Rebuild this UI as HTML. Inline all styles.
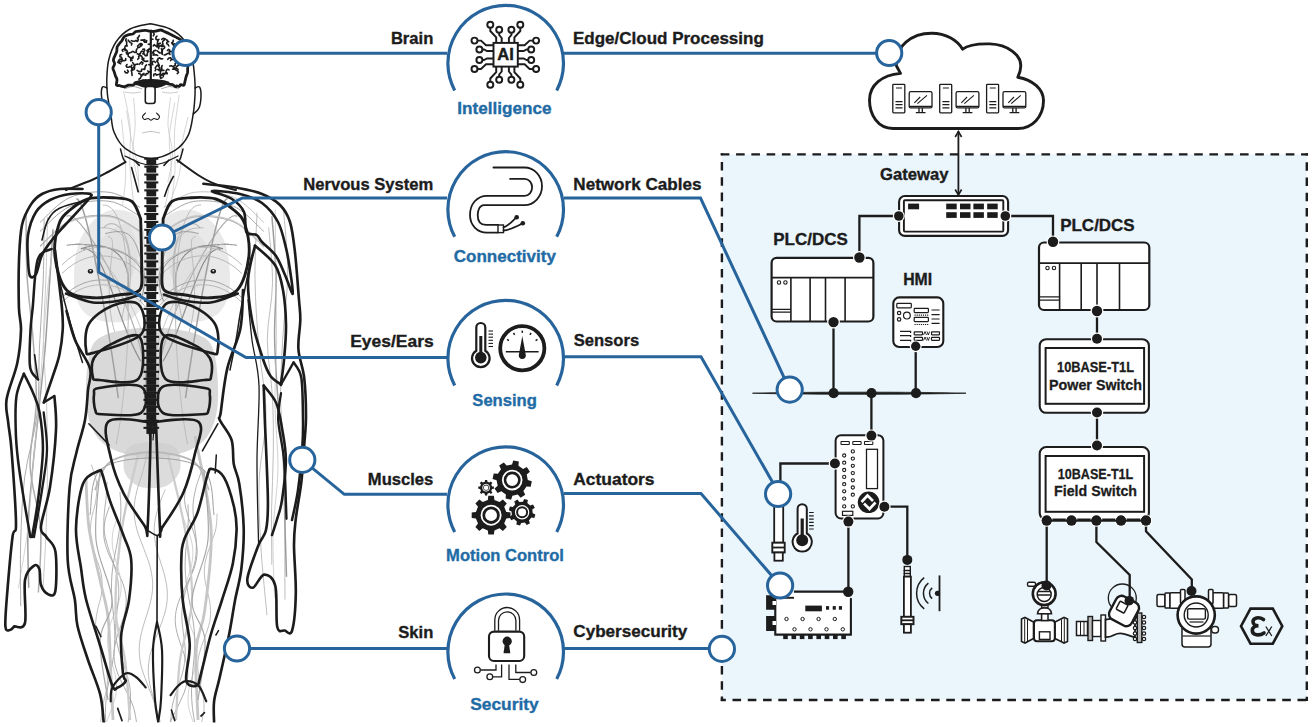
<!DOCTYPE html>
<html><head><meta charset="utf-8">
<style>
html,body{margin:0;padding:0;background:#fff;width:1312px;height:727px;overflow:hidden}
svg{display:block}
text{font-family:"Liberation Sans",sans-serif;font-weight:bold}
.lbl{font-size:16.6px;fill:#1c1c1c;stroke:#1c1c1c;stroke-width:0.35px}
.cap{font-size:16.6px;fill:#1f6ba5;stroke:#1f6ba5;stroke-width:0.35px}
.blue{stroke:#27649c;stroke-width:3;fill:none}
.bc{stroke:#27649c;stroke-width:3;fill:#fff}
.k{stroke:#1c1c1c;fill:none}
</style></head>
<body>
<svg width="1312" height="727" viewBox="0 0 1312 727">
<!-- BODY -->
<g id='body'>
<path d="M105 212 C114.2 207.8 128.3 210.3 135 215 C141.7 219.7 143.3 226.7 145 240 C146.7 253.3 147.2 282 145 295 C142.8 308 138.2 313.5 132 318 C125.8 322.5 116 323 108 322 C100 321 89.7 318.2 84 312 C78.3 305.8 74.7 297 74 285 C73.3 273 74.8 252.2 80 240 C85.2 227.8 95.8 216.2 105 212Z" fill="#e9e9e9"/>
<path d="M198.8 212 C189.6 207.8 175.5 210.3 168.8 215 C162.1 219.7 160.5 226.7 158.8 240 C157.1 253.3 156.6 282 158.8 295 C161 308 165.6 313.5 171.8 318 C178 322.5 187.8 323 195.8 322 C203.8 321 214.1 318.2 219.8 312 C225.5 305.8 229.1 297 229.8 285 C230.5 273 229 252.2 223.8 240 C218.6 227.8 208 216.2 198.8 212Z" fill="#e9e9e9"/>
<path d="M112 230 C117 226.7 123.7 221.7 128 225 C132.3 228.3 137.7 240.8 138 250 C138.3 259.2 134.7 273.3 130 280 C125.3 286.7 115.8 291.7 110 290 C104.2 288.3 97 277.5 95 270 C93 262.5 95.2 251.7 98 245 C100.8 238.3 107 233.3 112 230Z" fill="#dedede" opacity="0.8"/>
<path d="M191.8 230 C186.8 226.7 180.1 221.7 175.8 225 C171.5 228.3 166.1 240.8 165.8 250 C165.5 259.2 169.1 273.3 173.8 280 C178.5 286.7 188 291.7 193.8 290 C199.6 288.3 206.8 277.5 208.8 270 C210.8 262.5 208.6 251.7 205.8 245 C203 238.3 196.8 233.3 191.8 230Z" fill="#dedede" opacity="0.8"/>
<path d="M105 335 C113.3 331 132.2 328.5 140 328 C147.8 327.5 148 332 152 332 C156 332 156.2 327.5 164 328 C171.8 328.5 190.7 331 199 335 C207.3 339 210.8 341.2 214 352 C217.2 362.8 218.7 386.7 218 400 C217.3 413.3 214.7 423.7 210 432 C205.3 440.3 199.7 445.7 190 450 C180.3 454.3 164.7 458 152 458 C139.3 458 123.7 454.3 114 450 C104.3 445.7 98.7 440.3 94 432 C89.3 423.7 86.7 413.3 86 400 C85.3 386.7 86.8 362.8 90 352 C93.2 341.2 96.7 339 105 335Z" fill="#d9d9d9"/>
<path d="M128 448 C132.7 443.3 144 442 152 442 C160 442 171.3 443.3 176 448 C180.7 452.7 181.3 463.8 180 470 C178.7 476.2 172.7 482 168 485 C163.3 488 157.3 488 152 488 C146.7 488 140.7 488 136 485 C131.3 482 125.3 476.2 124 470 C122.7 463.8 123.3 452.7 128 448Z" fill="#cdcdcd" opacity="0.7"/>
<path d="M109.5 506.3 C108.7 508.8 105.7 516.5 104.8 521.7 C103.9 526.8 103.4 532 103.9 537.1 C104.5 542.2 106.2 547.4 108.1 552.5 C110 557.6 113.2 562.8 115.6 567.9 C118.1 573 121 578.2 122.8 583.3 C124.6 588.5 125.9 593.6 126.2 598.7 C126.4 603.9 125.6 609 124.5 614.1 C123.4 619.3 121.1 624.4 119.5 629.5 C117.9 634.7 115.8 639.8 115 645 C114.1 650.1 113.7 655.2 114.3 660.4 C114.9 665.5 116.7 670.6 118.7 675.8 C120.7 680.9 123.8 686 126.3 691.2 C128.7 696.3 131.6 701.5 133.3 706.6 C135 711.7 136 719.4 136.5 722" fill="none" stroke="#adadad" stroke-width="1.0"/>
<path d="M186.5 483.3 C186.2 486.1 184.3 494.7 184.6 500.4 C184.9 506 186.8 511.7 188.4 517.4 C190.1 523.1 192.9 528.8 194.3 534.5 C195.8 540.1 197.2 545.8 197.2 551.5 C197.1 557.2 195.8 562.9 194 568.6 C192.1 574.2 188.7 579.9 186.1 585.6 C183.5 591.3 180.1 597 178.3 602.7 C176.5 608.3 175.2 614 175.2 619.7 C175.1 625.4 176.6 631.1 178.1 636.8 C179.6 642.4 182.4 648.1 184 653.8 C185.6 659.5 187.5 665.2 187.8 670.9 C188 676.5 187.3 682.2 185.7 687.9 C184.2 693.6 181 699.3 178.5 705 C175.9 710.6 171.6 719.2 170.2 722" fill="none" stroke="#adadad" stroke-width="1.0"/>
<path d="M117.4 517.5 C116.7 520 113.7 527.3 112.9 532.1 C112.1 537 111.9 541.9 112.5 546.7 C113 551.6 114.7 556.5 115.9 561.3 C117.2 566.2 119.2 571.1 120 576 C120.9 580.8 121.4 585.7 121 590.6 C120.6 595.4 119.1 600.3 117.6 605.2 C116.1 610 113.5 614.9 111.9 619.8 C110.3 624.6 108.5 629.5 107.9 634.4 C107.3 639.2 107.5 644.1 108.2 649 C108.9 653.8 110.7 658.7 112 663.6 C113.3 668.4 115.2 673.3 115.8 678.2 C116.5 683.1 116.8 687.9 116.1 692.8 C115.5 697.7 113.7 702.5 112.1 707.4 C110.5 712.3 107.4 719.6 106.4 722" fill="none" stroke="#c8c8c8" stroke-width="0.8"/>
<path d="M179.7 495.8 C179.9 498.5 180.1 506.5 181.3 511.9 C182.6 517.3 185.3 522.7 187.1 528.1 C189 533.5 191.4 538.9 192.2 544.3 C193.1 549.6 193.1 555 192.4 560.4 C191.8 565.8 189.6 571.2 188.2 576.6 C186.8 582 184.7 587.3 184.1 592.7 C183.6 598.1 183.8 603.5 184.8 608.9 C185.8 614.3 188.3 619.7 190.1 625 C192 630.4 194.6 635.8 195.8 641.2 C196.9 646.6 197.4 652 197 657.4 C196.6 662.8 194.7 668.1 193.3 673.5 C191.9 678.9 189.6 684.3 188.8 689.7 C188 695.1 187.7 700.5 188.4 705.8 C189.1 711.2 192.3 719.3 193.1 722" fill="none" stroke="#c8c8c8" stroke-width="0.8"/>
<path d="M120 492 C120.1 494.7 120.9 502.9 120.9 508.4 C121 513.9 120.7 519.4 120.1 524.8 C119.5 530.3 118.5 535.8 117.5 541.3 C116.5 546.7 115.2 552.2 114.3 557.7 C113.4 563.2 112.4 568.6 112 574.1 C111.5 579.6 111.4 585.1 111.5 590.6 C111.6 596 112.2 601.5 112.7 607 C113.2 612.5 114 617.9 114.3 623.4 C114.7 628.9 115 634.4 114.8 639.8 C114.7 645.3 114.2 650.8 113.5 656.3 C112.8 661.8 111.6 667.2 110.6 672.7 C109.6 678.2 108.3 683.7 107.4 689.1 C106.6 694.6 105.9 700.1 105.6 705.6 C105.3 711 105.6 719.3 105.6 722" fill="none" stroke="#adadad" stroke-width="1.0"/>
<path d="M188 504.5 C188 507.1 188.5 514.8 188.3 520 C188.2 525.2 187.7 530.4 187.2 535.5 C186.8 540.7 186.1 545.9 185.7 551.1 C185.4 556.3 185 561.4 185.1 566.6 C185.2 571.8 185.6 577 186.2 582.2 C186.8 587.3 187.8 592.5 188.7 597.7 C189.7 602.9 190.9 608.1 191.8 613.2 C192.7 618.4 193.6 623.6 194.1 628.8 C194.6 634 194.8 639.1 194.8 644.3 C194.8 649.5 194.3 654.7 193.9 659.8 C193.5 665 192.7 670.2 192.4 675.4 C192 680.6 191.5 685.7 191.5 690.9 C191.5 696.1 191.7 701.3 192.3 706.5 C192.8 711.6 194.2 719.4 194.6 722" fill="none" stroke="#adadad" stroke-width="1.0"/>
<path d="M107 482 C106.8 484.9 106.5 493.4 106 499.2 C105.5 504.9 104.2 510.6 104 516.3 C103.7 522 103.7 527.7 104.5 533.4 C105.4 539.2 107.3 544.9 109 550.6 C110.7 556.3 113.3 562 114.9 567.7 C116.5 573.4 118 579.2 118.5 584.9 C119.1 590.6 118.6 596.3 118.2 602 C117.8 607.7 116.4 613.4 116.1 619.1 C115.7 624.9 115.3 630.6 115.9 636.3 C116.5 642 118 647.7 119.6 653.4 C121.2 659.1 123.8 664.9 125.6 670.6 C127.3 676.3 129.1 682 129.9 687.7 C130.7 693.4 130.6 699.1 130.3 704.9 C130 710.6 128.6 719.1 128.2 722" fill="none" stroke="#9c9c9c" stroke-width="0.8"/>
<path d="M202.1 469.5 C201.1 472.5 197.6 481.5 196 487.5 C194.5 493.5 193.3 499.5 193 505.5 C192.7 511.6 193.6 517.6 194.2 523.6 C194.7 529.6 196.1 535.6 196.3 541.6 C196.5 547.6 196.3 553.6 195.3 559.7 C194.3 565.7 192 571.7 190.2 577.7 C188.4 583.7 185.7 589.7 184.3 595.7 C182.9 601.7 182 607.8 181.8 613.8 C181.6 619.8 182.6 625.8 183.2 631.8 C183.8 637.8 185.1 643.8 185.2 649.8 C185.3 655.9 184.9 661.9 183.7 667.9 C182.6 673.9 180.2 679.9 178.4 685.9 C176.5 691.9 174 697.9 172.7 704 C171.4 710 170.9 719 170.6 722" fill="none" stroke="#9c9c9c" stroke-width="0.8"/>
<path d="M147.2 452.1 C146.5 455.3 144.6 464.9 142.9 471.4 C141.2 477.8 138.4 484.2 136.9 490.6 C135.4 497.1 134 503.5 134 509.9 C134 516.3 135.1 522.8 136.8 529.2 C138.4 535.6 141.4 542.1 143.7 548.5 C146 554.9 148.9 561.3 150.4 567.8 C151.9 574.2 152.9 580.6 152.7 587 C152.5 593.5 151 599.9 149.4 606.3 C147.8 612.7 145 619.2 143.4 625.6 C141.7 632 139.8 638.5 139.4 644.9 C138.9 651.3 139.5 657.7 140.7 664.2 C142 670.6 144.8 677 147 683.4 C149.3 689.9 152.4 696.3 154.2 702.7 C156.1 709.1 157.2 718.8 157.8 722" fill="none" stroke="#bdbdbd" stroke-width="1.0"/>
<path d="M165.2 489.4 C164.1 492.2 160.5 500.5 158.8 506 C157 511.6 155.4 517.1 154.7 522.6 C154 528.2 154.1 533.7 154.8 539.3 C155.4 544.8 157.1 550.3 158.6 555.9 C160.1 561.4 162.4 566.9 163.8 572.5 C165.2 578 166.7 583.6 167.1 589.1 C167.6 594.6 167.4 600.2 166.5 605.7 C165.6 611.2 163.7 616.8 161.8 622.3 C160 627.9 157.3 633.4 155.3 638.9 C153.3 644.5 151.1 650 149.9 655.5 C148.8 661.1 148.1 666.6 148.3 672.2 C148.4 677.7 149.6 683.2 150.8 688.8 C152.1 694.3 154.3 699.8 155.8 705.4 C157.4 710.9 159.5 719.2 160.2 722" fill="none" stroke="#bdbdbd" stroke-width="1.0"/>
<path d="M91.4 464.7 C92.3 467.7 95.9 476.9 96.6 483.1 C97.3 489.2 96.5 495.3 95.7 501.4 C94.8 507.6 92.1 513.7 91.3 519.8 C90.4 525.9 89.8 532.1 90.5 538.2 C91.2 544.3 93.9 550.5 95.7 556.6 C97.6 562.7 100.5 568.8 101.4 575 C102.4 581.1 102.2 587.2 101.5 593.3 C100.8 599.5 98.2 605.6 97.2 611.7 C96.2 617.8 95 624 95.5 630.1 C96 636.2 98.2 642.4 100 648.5 C101.8 654.6 105 660.7 106.2 666.9 C107.4 673 107.7 679.1 107.2 685.2 C106.7 691.4 104.3 697.5 103.2 703.6 C102.1 709.7 101.1 718.9 100.7 722" fill="none" stroke="#adadad" stroke-width="0.8"/>
<path d="M217.1 513.7 C216.9 516.2 216.9 523.6 215.9 528.6 C214.9 533.6 212.7 538.5 211.1 543.5 C209.4 548.4 207.1 553.4 206 558.4 C204.8 563.3 204.2 568.3 204.3 573.2 C204.4 578.2 205.6 583.1 206.6 588.1 C207.5 593.1 209.3 598 209.9 603 C210.5 607.9 210.9 612.9 210.3 617.9 C209.8 622.8 208.1 627.8 206.5 632.7 C205 637.7 202.5 642.7 201 647.6 C199.6 652.6 198.2 657.5 197.8 662.5 C197.4 667.5 198.1 672.4 198.8 677.4 C199.6 682.3 201.4 687.3 202.3 692.2 C203.1 697.2 204.2 702.2 204.1 707.1 C204 712.1 202.1 719.5 201.7 722" fill="none" stroke="#adadad" stroke-width="0.8"/>
<path d="M80.8 248.9 C109.7 237.2 137.4 258.1 125.9 302.4" fill="none" stroke="#8e8e8e" stroke-width="1.2"/>
<path d="M223 248.9 C194.1 237.2 166.4 258.1 177.9 302.4" fill="none" stroke="#8e8e8e" stroke-width="1.2"/>
<path d="M108 236.7 C121.1 235.8 99.9 283 114.7 331.9" fill="none" stroke="#bdbdbd" stroke-width="1.0"/>
<path d="M195.8 236.7 C182.7 235.8 203.9 283 189.1 331.9" fill="none" stroke="#bdbdbd" stroke-width="1.0"/>
<path d="M83 249.2 C104.5 243.3 116.3 321.2 140.8 361.3" fill="none" stroke="#8e8e8e" stroke-width="1.2"/>
<path d="M220.8 249.2 C199.3 243.3 187.5 321.2 163 361.3" fill="none" stroke="#8e8e8e" stroke-width="1.2"/>
<path d="M66.6 216.7 C79.6 201.8 158.5 346.2 144.2 399.1" fill="none" stroke="#b0b0b0" stroke-width="1.2"/>
<path d="M237.2 216.7 C224.2 201.8 145.3 346.2 159.6 399.1" fill="none" stroke="#b0b0b0" stroke-width="1.2"/>
<path d="M76.2 199.1 C86.7 193.6 112.2 351.9 118.3 398.2" fill="none" stroke="#a0a0a0" stroke-width="1.5"/>
<path d="M227.6 199.1 C217.1 193.6 191.6 351.9 185.5 398.2" fill="none" stroke="#a0a0a0" stroke-width="1.5"/>
<path d="M102.7 205.1 C137.2 201.3 131.7 367.5 116.2 444.4" fill="none" stroke="#bdbdbd" stroke-width="1.0"/>
<path d="M201.1 205.1 C166.6 201.3 172.1 367.5 187.6 444.4" fill="none" stroke="#bdbdbd" stroke-width="1.0"/>
<path d="M103.5 228.2 C114.7 213.8 139.9 232.4 126.9 307.7" fill="none" stroke="#bdbdbd" stroke-width="1.2"/>
<path d="M200.3 228.2 C189.1 213.8 163.9 232.4 176.9 307.7" fill="none" stroke="#bdbdbd" stroke-width="1.2"/>
<path d="M100.3 227.8 C131.9 226.8 135.3 251.9 121.7 319.8" fill="none" stroke="#b0b0b0" stroke-width="0.8"/>
<path d="M203.5 227.8 C171.9 226.8 168.5 251.9 182.1 319.8" fill="none" stroke="#b0b0b0" stroke-width="0.8"/>
<path d="M66.7 245.3 C89 241.6 162.6 247.7 140 301.8" fill="none" stroke="#8e8e8e" stroke-width="1.0"/>
<path d="M237.1 245.3 C214.8 241.6 141.2 247.7 163.8 301.8" fill="none" stroke="#8e8e8e" stroke-width="1.0"/>
<path d="M74.9 244 C105.7 235.2 167.2 359.9 149.2 401.7" fill="none" stroke="#bdbdbd" stroke-width="0.8"/>
<path d="M228.9 244 C198.1 235.2 136.6 359.9 154.6 401.7" fill="none" stroke="#bdbdbd" stroke-width="0.8"/>
<path d="M105.1 233.6 C134.1 226.3 137 237.7 148.5 293.6" fill="none" stroke="#8e8e8e" stroke-width="0.8"/>
<path d="M198.7 233.6 C169.7 226.3 166.8 237.7 155.3 293.6" fill="none" stroke="#8e8e8e" stroke-width="0.8"/>
<path d="M62 273.5 C90 245.5 125 253.5 146 278.5" fill="none" stroke="#b8b8b8" stroke-width="1"/>
<path d="M241.8 273.5 C213.8 245.5 178.8 253.5 157.8 278.5" fill="none" stroke="#b8b8b8" stroke-width="1"/>
<path d="M62 297.6 C90 269.6 125 277.6 146 302.6" fill="none" stroke="#a5a5a5" stroke-width="1"/>
<path d="M241.8 297.6 C213.8 269.6 178.8 277.6 157.8 302.6" fill="none" stroke="#a5a5a5" stroke-width="1"/>
<path d="M62 302.4 C90 274.4 125 282.4 146 307.4" fill="none" stroke="#b8b8b8" stroke-width="1"/>
<path d="M241.8 302.4 C213.8 274.4 178.8 282.4 157.8 307.4" fill="none" stroke="#b8b8b8" stroke-width="1"/>
<path d="M62 264.9 C90 236.9 125 244.9 146 269.9" fill="none" stroke="#b8b8b8" stroke-width="1"/>
<path d="M241.8 264.9 C213.8 236.9 178.8 244.9 157.8 269.9" fill="none" stroke="#b8b8b8" stroke-width="1"/>
<path d="M40 247 C45 242.9 58.3 227 70 222 C81.7 217 98.3 215.4 110 217 C121.7 218.7 135 229.5 140 232" fill="none" stroke="#c8c8c8" stroke-width="0.9"/>
<path d="M263.8 247 C258.8 242.9 245.5 227 233.8 222 C222.1 217 205.5 215.4 193.8 217 C182.1 218.7 168.8 229.5 163.8 232" fill="none" stroke="#9c9c9c" stroke-width="0.9"/>
<path d="M40 245.9 C45 241.7 58.3 225.9 70 220.9 C81.7 215.9 98.3 214.2 110 215.9 C121.7 217.6 135 228.4 140 230.9" fill="none" stroke="#9c9c9c" stroke-width="0.9"/>
<path d="M263.8 245.9 C258.8 241.7 245.5 225.9 233.8 220.9 C222.1 215.9 205.5 214.2 193.8 215.9 C182.1 217.6 168.8 228.4 163.8 230.9" fill="none" stroke="#c8c8c8" stroke-width="0.9"/>
<path d="M40 231.4 C45 227.2 58.3 211.4 70 206.4 C81.7 201.4 98.3 199.7 110 201.4 C121.7 203 135 213.9 140 216.4" fill="none" stroke="#9c9c9c" stroke-width="0.9"/>
<path d="M263.8 231.4 C258.8 227.2 245.5 211.4 233.8 206.4 C222.1 201.4 205.5 199.7 193.8 201.4 C182.1 203 168.8 213.9 163.8 216.4" fill="none" stroke="#9c9c9c" stroke-width="0.9"/>
<path d="M40 222.4 C45 218.2 58.3 202.4 70 197.4 C81.7 192.4 98.3 190.7 110 192.4 C121.7 194.1 135 204.9 140 207.4" fill="none" stroke="#9c9c9c" stroke-width="0.9"/>
<path d="M263.8 222.4 C258.8 218.2 245.5 202.4 233.8 197.4 C222.1 192.4 205.5 190.7 193.8 192.4 C182.1 194.1 168.8 204.9 163.8 207.4" fill="none" stroke="#bdbdbd" stroke-width="0.9"/>
<path d="M40 246.4 C45 242.2 58.3 226.4 70 221.4 C81.7 216.4 98.3 214.7 110 216.4 C121.7 218.1 135 228.9 140 231.4" fill="none" stroke="#bdbdbd" stroke-width="0.9"/>
<path d="M263.8 246.4 C258.8 242.2 245.5 226.4 233.8 221.4 C222.1 216.4 205.5 214.7 193.8 216.4 C182.1 218.1 168.8 228.9 163.8 231.4" fill="none" stroke="#c8c8c8" stroke-width="0.9"/>
<path d="M53 229.3 C52.4 239.3 50.5 269.1 49.2 289 C47.8 309 46.8 328.9 45.1 348.8 C43.4 368.7 41 388.6 39 408.5 C36.9 428.4 34.5 448.4 32.7 468.3 C30.9 488.2 28.7 508.1 28 528 C27.3 547.9 28.6 577.8 28.7 587.8" fill="none" stroke="#9c9c9c" stroke-width="1.5"/>
<path d="M283.5 209 C284.2 219.8 287.9 252.4 287.7 274.1 C287.6 295.8 283.8 317.5 282.7 339.2 C281.5 360.9 280.2 382.6 280.7 404.3 C281.2 426 284.9 447.7 285.6 469.4 C286.3 491.1 285 512.8 284.9 534.5 C284.8 556.2 284.9 588.8 285 599.6" fill="none" stroke="#bdbdbd" stroke-width="1"/>
<path d="M47.6 217 C47.3 227.3 46.6 258.4 45.9 279.1 C45.2 299.9 43.4 320.6 43.6 341.3 C43.7 362 45.9 382.7 46.6 403.4 C47.3 424.2 47.6 444.9 47.5 465.6 C47.5 486.3 47 507 46.2 527.7 C45.5 548.5 43.5 579.5 42.9 589.9" fill="none" stroke="#bdbdbd" stroke-width="0.8"/>
<path d="M257 212.5 C256.7 223.7 254.7 257.2 255 279.6 C255.3 302 257 324.4 258.9 346.7 C260.7 369.1 265.9 391.5 266 413.9 C266 436.2 259.9 458.6 259.1 481 C258.3 503.4 259.7 525.7 261 548.1 C262.3 570.5 266 604.1 267 615.2" fill="none" stroke="#adadad" stroke-width="0.8"/>
<path d="M54.4 233.8 C53.2 243.6 49.2 273.2 47.2 292.9 C45.3 312.5 44.1 332.2 42.6 351.9 C41.1 371.6 39.8 391.3 38.1 411 C36.4 430.7 34.3 450.4 32.6 470.1 C30.8 489.8 30.2 509.5 27.8 529.2 C25.4 548.9 20 578.4 18.4 588.3" fill="none" stroke="#c8c8c8" stroke-width="0.8"/>
<path d="M271.9 216.2 C272.6 226.2 275.6 256.3 276.1 276.3 C276.5 296.3 274.3 316.3 274.6 336.4 C274.8 356.4 276.3 376.4 277.7 396.4 C279.2 416.5 282 436.5 283.1 456.5 C284.3 476.6 284.2 496.6 284.7 516.6 C285.3 536.6 286.2 566.7 286.5 576.7" fill="none" stroke="#9c9c9c" stroke-width="1.5"/>
<path d="M44.2 219.2 C44 229.9 43.9 262.2 43.1 283.7 C42.3 305.2 40.3 326.7 39.4 348.2 C38.4 369.7 39.7 391.2 37.3 412.7 C34.9 434.2 27.5 455.7 24.7 477.2 C21.9 498.7 21.4 520.2 20.7 541.7 C20 563.2 20.7 595.4 20.7 606.2" fill="none" stroke="#adadad" stroke-width="1"/>
<path d="M268.7 227.4 C269.4 236.8 272.7 264.9 272.5 283.6 C272.3 302.3 267.3 321.1 267.3 339.8 C267.3 358.6 271.4 377.3 272.4 396 C273.4 414.8 273.5 433.5 273.3 452.3 C273.2 471 271.9 489.7 271.6 508.5 C271.4 527.2 271.8 555.3 271.8 564.7" fill="none" stroke="#adadad" stroke-width="0.8"/>
<path d="M26.1 212.9 C26.2 223.5 25.9 255.1 27.1 276.2 C28.2 297.2 31.6 318.3 33.1 339.4 C34.6 360.5 36.8 381.6 36.3 402.7 C35.8 423.7 29.4 444.8 30.1 465.9 C30.9 487 39.3 508.1 40.6 529.1 C42 550.2 38.7 581.8 38.4 592.4" fill="none" stroke="#adadad" stroke-width="1.5"/>
<path d="M275.3 209.5 C275.3 220.3 275.4 252.7 275.7 274.2 C275.9 295.8 276.7 317.3 276.6 338.9 C276.4 360.4 274.7 382 274.9 403.5 C275.2 425.1 278.3 446.6 278 468.2 C277.7 489.8 273.6 511.3 273.1 532.9 C272.5 554.4 274.3 586.8 274.5 597.5" fill="none" stroke="#c8c8c8" stroke-width="0.8"/>
<path d="M121.5 119.5 C122 124.3 123.6 138.7 124.2 148.3 C124.9 157.9 125.8 167.5 125.6 177.1 C125.3 186.8 123 201.2 122.5 206" fill="none" stroke="#c4c4c4" stroke-width="0.7"/>
<path d="M170.5 97.3 C170.1 102 167.7 116.2 168 125.7 C168.4 135.2 172.5 144.7 172.5 154.2 C172.4 163.7 168.5 177.9 167.8 182.6" fill="none" stroke="#c4c4c4" stroke-width="0.7"/>
<path d="M133.6 97.9 C133.9 102.4 135.3 116.2 135.1 125.4 C135 134.6 132.3 143.8 132.8 152.9 C133.3 162.1 137.1 175.9 138 180.5" fill="none" stroke="#c4c4c4" stroke-width="0.7"/>
<path d="M174.8 102.6 C173.9 108.5 169.9 126 169.3 137.6 C168.7 149.3 171.9 160.9 171.1 172.6 C170.4 184.3 165.9 201.8 164.9 207.6" fill="none" stroke="#c4c4c4" stroke-width="0.7"/>
<path d="M123.6 91.1 C124.7 97.1 129.1 115.4 130.2 127.6 C131.2 139.7 129.3 151.9 129.8 164.1 C130.4 176.3 132.7 194.5 133.3 200.6" fill="none" stroke="#c4c4c4" stroke-width="0.7"/>
<path d="M188 117 C187 121.6 183.2 135.5 181.8 144.8 C180.5 154 181.5 163.3 179.7 172.6 C177.9 181.8 172.4 195.7 171 200.3" fill="none" stroke="#c4c4c4" stroke-width="0.7"/>
<path d="M126.6 110.7 C127.3 115.3 129.4 129 131.2 138.2 C133 147.3 136.2 156.5 137.5 165.7 C138.8 174.8 138.7 188.6 138.9 193.2" fill="none" stroke="#c4c4c4" stroke-width="0.7"/>
<path d="M179.2 94.9 C178.4 101.2 175.2 119.9 174.5 132.4 C173.8 144.8 175.6 157.3 175 169.8 C174.4 182.3 171.5 201 170.9 207.2" fill="none" stroke="#c4c4c4" stroke-width="0.7"/>
<path d="M86 479 C86.5 487.2 86.7 511.2 89 528 C91.3 544.8 96.8 565.2 100 580 C103.2 594.8 106.2 602.2 108 617 C109.8 631.8 109.8 651.4 110.6 668.6 C111.4 685.8 112.6 711.4 113 720" fill="none" stroke="#c6c6c6" stroke-width="2.8"/>
<path d="M138.7 452.6 C135.9 465.2 125.8 501.8 122 528 C118.2 554.2 115.1 588 115.6 610 C116.1 632 122.6 641.7 125 660 C127.4 678.3 129.2 710 130 720" fill="none" stroke="#cccccc" stroke-width="2.4"/>
<path d="M195 436 C197.7 451.3 209.4 499 211 528 C212.6 557 207.3 589.7 204.8 610 C202.3 630.3 197.1 631.7 196 650 C194.9 668.3 197.7 708.3 198 720" fill="none" stroke="#c6c6c6" stroke-width="2.8"/>
<path d="M168 455 C170.8 467.5 181 505.8 185 530 C189 554.2 192.8 578.3 192 600 C191.2 621.7 182.7 640 180 660 C177.3 680 176.7 710 176 720" fill="none" stroke="#cccccc" stroke-width="2.2"/>
<path d="M100 470 C99.3 481.7 94 518.3 96 540 C98 561.7 111.3 583.3 112 600 C112.7 616.7 100.7 623.3 100 640 C99.3 656.7 106.7 690 108 700" fill="none" stroke="#a8a8a8" stroke-width="1.2"/>
<path d="M204 470 C204.7 481.7 210 518.3 208 540 C206 561.7 192.5 583.3 192 600 C191.5 616.7 204 623.3 205 640 C206 656.7 199.2 690 198 700" fill="none" stroke="#a8a8a8" stroke-width="1.2"/>
<path d="M95 490 C97.5 485.3 100.5 468.3 110 462 C119.5 455.7 138 452 152 452 C166 452 184.5 455.7 194 462 C203.5 468.3 206.5 485.3 209 490" fill="none" stroke="#b8b8b8" stroke-width="1.8"/>
<path d="M90 515 C91.7 507.5 89.7 479.5 100 470 C110.3 460.5 134.7 458 152 458 C169.3 458 193.7 460.5 204 470 C214.3 479.5 212.3 507.5 214 515" fill="none" stroke="#a0a0a0" stroke-width="1.0"/>
<rect x="144.3" y="157.7" width="14" height="2.1" fill="#1c1c1c"/>
<rect x="146.4" y="159.2" width="9.8" height="5.6" fill="#1c1c1c"/>
<rect x="144.3" y="165.6" width="14" height="2.1" fill="#1c1c1c"/>
<rect x="146.4" y="167.1" width="9.8" height="5.6" fill="#1c1c1c"/>
<rect x="144.3" y="173.5" width="14" height="2.1" fill="#1c1c1c"/>
<rect x="146.4" y="175" width="9.8" height="5.6" fill="#1c1c1c"/>
<rect x="144.3" y="181.4" width="14" height="2.1" fill="#1c1c1c"/>
<rect x="146.4" y="182.9" width="9.8" height="5.6" fill="#1c1c1c"/>
<rect x="144.3" y="189.3" width="14" height="2.1" fill="#1c1c1c"/>
<rect x="146.4" y="190.8" width="9.8" height="5.6" fill="#1c1c1c"/>
<rect x="144.3" y="197.2" width="14" height="2.1" fill="#1c1c1c"/>
<rect x="146.4" y="198.7" width="9.8" height="5.6" fill="#1c1c1c"/>
<rect x="144.3" y="205.1" width="14" height="2.1" fill="#1c1c1c"/>
<rect x="146.4" y="206.6" width="9.8" height="5.6" fill="#1c1c1c"/>
<rect x="144.3" y="213" width="14" height="2.1" fill="#1c1c1c"/>
<rect x="146.4" y="214.5" width="9.8" height="5.6" fill="#1c1c1c"/>
<rect x="144.3" y="220.9" width="14" height="2.1" fill="#1c1c1c"/>
<rect x="146.4" y="222.4" width="9.8" height="5.6" fill="#1c1c1c"/>
<rect x="144.3" y="228.8" width="14" height="2.1" fill="#1c1c1c"/>
<rect x="146.4" y="230.3" width="9.8" height="5.6" fill="#1c1c1c"/>
<rect x="144.3" y="236.7" width="14" height="2.1" fill="#1c1c1c"/>
<rect x="146.4" y="238.2" width="9.8" height="5.6" fill="#1c1c1c"/>
<rect x="144.3" y="244.6" width="14" height="2.1" fill="#1c1c1c"/>
<rect x="146.4" y="246.1" width="9.8" height="5.6" fill="#1c1c1c"/>
<rect x="144.3" y="252.5" width="14" height="2.1" fill="#1c1c1c"/>
<rect x="146.4" y="254" width="9.8" height="5.6" fill="#1c1c1c"/>
<rect x="144.3" y="260.4" width="14" height="2.1" fill="#1c1c1c"/>
<rect x="146.4" y="261.9" width="9.8" height="5.6" fill="#1c1c1c"/>
<rect x="144.3" y="268.3" width="14" height="2.1" fill="#1c1c1c"/>
<rect x="146.4" y="269.8" width="9.8" height="5.6" fill="#1c1c1c"/>
<rect x="144.3" y="276.2" width="14" height="2.1" fill="#1c1c1c"/>
<rect x="146.4" y="277.7" width="9.8" height="5.6" fill="#1c1c1c"/>
<rect x="144.3" y="284.1" width="14" height="2.1" fill="#1c1c1c"/>
<rect x="146.4" y="285.6" width="9.8" height="5.6" fill="#1c1c1c"/>
<rect x="144.3" y="292" width="14" height="2.1" fill="#1c1c1c"/>
<rect x="146.4" y="293.5" width="9.8" height="5.6" fill="#1c1c1c"/>
<rect x="144.3" y="299.9" width="14" height="2.1" fill="#1c1c1c"/>
<rect x="146.4" y="301.4" width="9.8" height="5.6" fill="#1c1c1c"/>
<rect x="143.5" y="307.8" width="15.6" height="2.1" fill="#1c1c1c"/>
<rect x="146.4" y="309.3" width="9.8" height="5.6" fill="#1c1c1c"/>
<rect x="143.5" y="314.8" width="15.6" height="2.1" fill="#1c1c1c"/>
<rect x="146.4" y="316.3" width="9.8" height="5.6" fill="#1c1c1c"/>
<rect x="143.5" y="321.8" width="15.6" height="2.1" fill="#1c1c1c"/>
<rect x="146.4" y="323.3" width="9.8" height="5.6" fill="#1c1c1c"/>
<rect x="143.5" y="328.8" width="15.6" height="2.1" fill="#1c1c1c"/>
<rect x="146.4" y="330.3" width="9.8" height="5.6" fill="#1c1c1c"/>
<rect x="143.5" y="335.8" width="15.6" height="2.1" fill="#1c1c1c"/>
<rect x="146.4" y="337.3" width="9.8" height="5.6" fill="#1c1c1c"/>
<rect x="143.5" y="342.8" width="15.6" height="2.1" fill="#1c1c1c"/>
<rect x="146.4" y="344.3" width="9.8" height="5.6" fill="#1c1c1c"/>
<rect x="143.5" y="349.8" width="15.6" height="2.1" fill="#1c1c1c"/>
<rect x="146.4" y="351.3" width="9.8" height="5.6" fill="#1c1c1c"/>
<rect x="143.5" y="356.8" width="15.6" height="2.1" fill="#1c1c1c"/>
<rect x="146.4" y="358.3" width="9.8" height="5.6" fill="#1c1c1c"/>
<rect x="143.5" y="363.8" width="15.6" height="2.1" fill="#1c1c1c"/>
<rect x="146.4" y="365.3" width="9.8" height="5.6" fill="#1c1c1c"/>
<rect x="143.5" y="370.8" width="15.6" height="2.1" fill="#1c1c1c"/>
<rect x="146.4" y="372.3" width="9.8" height="5.6" fill="#1c1c1c"/>
<rect x="143.5" y="377.8" width="15.6" height="2.1" fill="#1c1c1c"/>
<rect x="146.4" y="379.3" width="9.8" height="5.6" fill="#1c1c1c"/>
<rect x="143.5" y="384.8" width="15.6" height="2.1" fill="#1c1c1c"/>
<rect x="146.4" y="386.3" width="9.8" height="5.6" fill="#1c1c1c"/>
<rect x="143.5" y="391.8" width="15.6" height="2.1" fill="#1c1c1c"/>
<rect x="146.4" y="393.3" width="9.8" height="5.6" fill="#1c1c1c"/>
<rect x="143.5" y="398.8" width="15.6" height="2.1" fill="#1c1c1c"/>
<rect x="146.4" y="400.3" width="9.8" height="5.6" fill="#1c1c1c"/>
<rect x="143.5" y="405.8" width="15.6" height="2.1" fill="#1c1c1c"/>
<rect x="146.4" y="407.3" width="9.8" height="5.6" fill="#1c1c1c"/>
<rect x="143.5" y="412.8" width="15.6" height="2.1" fill="#1c1c1c"/>
<rect x="146.4" y="414.3" width="9.8" height="5.6" fill="#1c1c1c"/>
<rect x="143.5" y="419.8" width="15.6" height="2.1" fill="#1c1c1c"/>
<rect x="146.4" y="421.3" width="9.8" height="5.6" fill="#1c1c1c"/>
<rect x="143.5" y="426.8" width="15.6" height="2.1" fill="#1c1c1c"/>
<rect x="146.4" y="428.3" width="9.8" height="5.6" fill="#1c1c1c"/>
<path d="M148.5 428 C148.8 430 149.8 438 150 440" fill="none" stroke="#1c1c1c" stroke-width="1.2" stroke-linecap="round"/>
<path d="M154 428 C153.8 430 153.2 438 153 440" fill="none" stroke="#1c1c1c" stroke-width="1.2" stroke-linecap="round"/>
<path d="M150.3 23.7 C146.9 24.6 135.7 25.9 130 29 C124.3 32 119.5 36.8 116 42 C112.5 47.2 110.2 53.8 108.7 60 C107.2 66.2 107 73.6 106.8 79.4 C106.6 85.2 106.9 89.5 107.5 95 C108.1 100.5 109.5 106.1 110.6 112.3 C111.7 118.5 111.5 126 114 132 C116.5 138.1 119.5 144.2 125.5 148.6 C131.6 153 142.1 158.2 150.3 158.5 C158.6 158.8 168.7 154.2 175 150.3 C181.3 146.5 185.2 141.5 188.2 135.4 C191.2 129.3 192.1 120.7 193.2 114 C194.3 107.3 194.7 100.8 195 95 C195.3 89.2 195.3 85.6 194.8 79.4 C194.3 73.2 193.8 64.6 192 58 C190.2 51.4 187.7 44.8 184 40 C180.3 35.2 175.6 31.7 170 29 C164.4 26.3 153.6 24.6 150.3 23.7" fill="none" stroke="#1c1c1c" stroke-width="1.5" stroke-linecap="round"/>
<path d="M107 88 C106.2 87.8 103.4 85.7 102.5 87 C101.6 88.3 101.2 92.5 101.5 96 C101.8 99.5 102.5 105.2 104 108 C105.5 110.8 109.5 112.2 110.6 113" fill="none" stroke="#1c1c1c" stroke-width="1.5" stroke-linecap="round"/>
<path d="M195 88 C195.8 87.8 198.5 85.7 199.5 87 C200.5 88.3 201.1 92.5 201 96 C200.9 99.5 200.3 105 199 108 C197.7 111 194.2 113 193.2 114" fill="none" stroke="#1c1c1c" stroke-width="1.5" stroke-linecap="round"/>
<path d="M145.5 113 C145 113.6 142.7 115.4 142.5 116.5 C142.3 117.6 143.6 119.2 144.5 119.5 C145.4 119.8 146.9 118.4 148 118.5 C149.1 118.6 150 120.3 151 120.3 C152 120.3 152.9 118.6 154 118.5 C155.1 118.4 156.6 119.8 157.5 119.5 C158.4 119.2 159.7 117.6 159.5 116.5 C159.3 115.4 157 113.6 156.5 113" fill="none" stroke="#1c1c1c" stroke-width="1.1" stroke-linecap="round"/>
<path d="M124 89 C125.5 88.6 130 86.5 133 86.5 C136 86.5 140.5 88.6 142 89" fill="none" stroke="#9a9a9a" stroke-width="0.9"/>
<path d="M125 92 C126.3 92.2 130.3 93 133 93 C135.7 93 139.7 92.2 141 92" fill="none" stroke="#bbb" stroke-width="0.8"/>
<path d="M161 89 C162.5 88.6 167 86.5 170 86.5 C173 86.5 177.5 88.6 179 89" fill="none" stroke="#9a9a9a" stroke-width="0.9"/>
<path d="M162 92 C163.3 92.2 167.3 93 170 93 C172.7 93 176.7 92.2 178 92" fill="none" stroke="#bbb" stroke-width="0.8"/>
<path d="M142 133 C143.5 132.8 148 131.5 151 131.5 C154 131.5 158.5 132.8 160 133" fill="none" stroke="#b8b8b8" stroke-width="0.9"/>
<path d="M125 156 C127.5 157.2 135.7 161.5 140 163 C144.3 164.5 147.2 165 151 165 C154.8 165 158.5 164.5 163 163 C167.5 161.5 175.5 157.2 178 156" fill="none" stroke="#1c1c1c" stroke-width="1.3" stroke-linecap="round"/>
<path d="M150.8 31.3 C149.2 31.2 147.4 30.5 145.8 30.4 C144.1 30.3 142.4 30.7 140.8 30.9 C139.2 31.1 137.4 31 136 31.5 C134.7 32.1 134 33.4 132.7 34 C131.3 34.5 129.4 34.4 128 34.9 C126.6 35.3 125.2 35.9 124.2 36.8 C123.2 37.8 122.8 39.4 122 40.5 C121.2 41.7 120.1 42.6 119.3 43.8 C118.4 44.9 117.5 45.9 117.1 47.2 C116.7 48.5 117.1 50.1 116.7 51.6 C116.3 53 115.4 54.3 114.9 55.7 C114.3 57.1 113.4 58.7 113.4 60 C113.4 61.4 114.7 62.5 114.6 63.8 C114.5 65.2 113 66.9 112.9 68.2 C112.8 69.5 113.8 70.5 114.2 71.8 C114.6 73.1 114.9 74.5 115.4 75.8 C115.9 77.2 116.8 78.1 117 79.7 C117.2 81.2 116 84.2 116.4 85.1 C116.8 86.1 118.5 85.3 119.4 85.5 C120.3 85.7 120.9 86.2 121.8 86.4 C122.7 86.6 123.7 86.9 124.8 86.7 C125.9 86.5 127.4 85.4 128.4 85.1 C129.3 84.9 129.8 85.2 130.6 85.2 C131.4 85.1 132.1 85.3 133 85 C133.9 84.7 135.1 83.4 135.8 83.2 C136.5 83 136.4 84.2 137.2 84 C137.9 83.7 139 82.2 140.1 81.7 C141.3 81.2 142.9 80.9 144.2 81 C145.5 81.2 146.6 82.5 147.9 82.4 C149.2 82.3 150.6 80.6 152 80.6 C153.3 80.6 154.9 82.5 156.2 82.7 C157.5 82.9 158.7 81.8 160 81.7 C161.3 81.6 163 82 164.1 82.1 C165.1 82.3 165.4 82.4 166.1 82.7 C166.9 83 167.9 83.7 168.6 84 C169.4 84.3 169.9 84.3 170.6 84.4 C171.2 84.5 171.5 84.3 172.3 84.6 C173.1 85 174.9 86.4 175.6 86.7 C176.3 86.9 175.9 86.1 176.6 86 C177.2 86 178.8 86.5 179.5 86.3 C180.1 86 179.7 84.8 180.5 84.6 C181.2 84.4 183.1 85.8 183.9 85.1 C184.6 84.5 184.7 82.2 185.1 80.8 C185.5 79.3 185.8 77.8 186.2 76.4 C186.6 75 187.3 73.7 187.6 72.2 C187.8 70.7 187.5 69 187.7 67.4 C187.8 65.8 188.6 64.3 188.5 62.7 C188.5 61.2 187.8 59.5 187.6 58 C187.4 56.5 187.5 55.4 187.4 54 C187.4 52.6 187.7 51.1 187.3 49.8 C186.8 48.5 185.4 47.4 184.8 46.2 C184.2 45 184.2 43.8 183.5 42.7 C182.8 41.6 181.6 40.6 180.5 39.7 C179.3 38.8 177.9 38.1 176.6 37.4 C175.3 36.8 173.9 36.3 172.6 35.6 C171.3 34.9 170.2 34.2 168.9 33.5 C167.6 32.9 166.2 32.3 164.9 31.7 C163.5 31.2 162.2 30.2 160.7 30 C159.1 29.9 157.1 30.9 155.5 31.1 C153.8 31.3 152.4 31.4 150.8 31.3Z" fill="#fff" stroke="#1c1c1c" stroke-width="2.8" stroke-linejoin="round"/>
<path d="M135 82.5 C143 89 160 89 168 82.5 C160 79 143 79 135 82.5Z" fill="#1c1c1c" stroke="#1c1c1c" stroke-width="2"/>
<path d="M150.8 31 V82" stroke="#1c1c1c" stroke-width="2.2"/>
<path d="M122.9 51.4 L122.1 49.9 L123.6 49.1 L125.3 48.8 L126 50.3 M121.7 54.6 L120.1 55.1 L119.9 56.8 L121.5 57.2 L122 58.8 M122.5 59.9 L121.1 59 L119.5 59.4 L118.5 60.8 L117.9 62.4 M120.7 63.7 L119.1 63.1 L119.8 61.6 L121.4 61 L123 60.4 M126.7 45.2 L126.6 43.5 L126.8 41.9 L125.7 40.5 L126.1 38.9 M125.4 50.6 L124.9 49 L124.8 47.3 L125.6 45.7 L127.3 45.9 M127.2 54.3 L126.2 52.9 L127.4 51.7 L126.6 50.1 L125 50.6 M125.7 58.6 L125.7 60.3 L124 60.8 L122.4 60.4 L121.5 61.9 M127 64.5 L126.1 65.9 L127 67.3 L128.7 67.2 L130.2 66.5 M127.5 70.2 L128.4 71.6 L127.3 72.9 L125.6 72.8 L124.8 71.3 M131.4 40.6 L132.9 41.3 L134.6 41.3 L136 40.4 L137.2 41.5 M131.5 45 L131.9 43.4 L130.4 42.6 L129.2 41.4 L128.1 40.1 M132.8 51.4 L131.3 52.2 L129.8 52.9 L128.1 53.3 L128.3 55 M133 56.4 L133 58.1 L131.3 57.9 L130.7 59.5 L132.1 60.3 M130.8 60.9 L130.6 59.3 L131.1 57.6 L129.5 57.2 L128.2 56.1 M131.9 65.1 L131.1 66.5 L131.7 68.1 L133.3 67.5 L134.7 66.6 M131.3 70.6 L132.9 70 L134.4 69.1 L134.6 67.4 L134.2 65.8 M132.1 75.4 L131.9 73.7 L131.7 72 L131.4 70.3 L132.3 68.9 M137.8 41.1 L138.3 39.5 L137.4 38 L138.7 36.9 L139.4 35.4 M137.6 46 L137.9 47.7 L139.5 47.2 L140.6 45.9 L140.7 44.2 M137 48.9 L136.2 50.4 L136.5 52.1 L134.9 52.5 L133.4 51.6 M137.2 53.8 L138.7 54.5 L140.2 53.6 L140.9 52 L142.2 51 M137.8 59.3 L138.9 57.9 L138.6 56.3 L140 55.3 L139.7 53.7 M137.8 64.1 L136.2 64.3 L134.7 65.2 L133.7 63.9 L132.6 62.6 M137.1 70.4 L138.5 71.4 L140.1 71.8 L141.6 71 L141.6 69.3 M138.7 73.6 L140.3 74.1 L141.3 75.5 L142.6 74.5 L144 73.4 M141 40.1 L142.7 40 L144.4 39.7 L145.1 41.2 L146.4 42.3 M141.4 45.9 L142.3 44.4 L140.9 43.5 L139.4 44.3 L138.2 45.5 M142.7 49.2 L144.4 49 L144.7 50.7 L143.2 51.5 L144 52.9 M142.7 53.7 L144.4 54.1 L145.2 55.6 L146.9 55.7 L147.1 54 M143.4 60.3 L142.1 59.3 L142.3 57.6 L141.6 56.1 L140 55.5 M142.1 64.4 L143 62.9 L141.6 61.9 L140.4 63.1 L139.2 64.3 M143 69.1 L144.7 69.4 L145 67.7 L145.3 66.1 L146.5 64.9 M143 74 L142.1 75.4 L141 76.7 L140.4 78.3 L138.9 79.2 M143.2 80.1 L143.1 81.8 L144.5 82.8 L145.5 81.4 L145.7 79.7 M146.7 40.6 L146.1 42.2 L144.4 42.2 L143.5 40.7 L144.8 39.6 M148.2 44.2 L149.9 44.1 M148.9 51.4 L147.8 50.2 L148.9 48.9 L150.6 49.2 L150.7 47.5 M147.3 55.3 L147.2 53.6 L148 52.1 L146.9 50.8 L148.1 49.6 M147.8 61.1 L146.1 61.4 L144.4 61.3 L143.5 59.9 L143.8 58.3 M148.8 64.6 L150.5 64.9 M147.8 70.9 L148.7 72.4 L150.1 71.5 M147.9 73.6 L146.2 73.5 L145.8 75.1 L144.1 74.8 L142.4 74.4 M148.9 80 L150.6 79.9 M153.3 35.8 L154.2 34.3 L153.6 32.7 L152.7 31.3 L151.3 30.3 M152.9 39.3 L151.2 39.1 L151 40.8 M153.2 45.9 L154.3 44.6 L155.4 45.8 L157 46.5 L158.7 46.5 M153.1 55.2 L154 53.8 L153.3 52.2 L154 50.6 L155.7 50.4 M152.8 58.7 L151.2 58.2 M152.8 64.7 L152.1 63.1 L152.5 61.5 L154.2 61.3 L155.4 62.5 M153.7 75.9 L153.9 74.2 L155.5 73.7 L156.4 75.2 L158 74.5 M157 36 L155.9 37.3 L155.9 39 L157.3 40 L158.9 39.4 M158.1 40.6 L157.4 42.2 L157.6 43.9 L157 45.4 L157.1 47.1 M157.2 43.9 L158.1 45.4 L159.3 46.5 L160.8 45.6 L162 46.8 M158.6 48.6 L158.8 46.9 L158.8 45.2 L158.7 43.5 L160.4 43.4 M157.7 55.4 L156.2 54.8 L154.5 55 L153.2 53.8 L152.6 52.2 M158 60 L156.7 61.2 L158 62.4 L158.5 64 L159.3 65.5 M157.3 65.3 L156.2 66.6 L155.2 67.9 L155.9 69.4 L155.1 70.9 M157.6 69.5 L159.3 69.2 L159.8 67.6 L158.5 66.5 L157.8 64.9 M159.1 74.2 L160.3 75.4 L161.8 74.6 L163 73.4 L164.7 73.5 M157.2 80.6 L156.5 82.2 L157.3 83.7 L157.5 85.4 L159.2 85.5 M164.3 40.1 L162.9 41.1 L162.5 42.7 L163.1 44.3 L161.6 45.2 M162.9 45.9 L164.5 46.2 L164.6 47.9 L163.3 49 L161.7 49.6 M162.3 51.3 L161.5 52.8 L159.8 53 L158.5 52 L157.2 50.8 M162.3 54.5 L162.3 52.8 L161.6 51.2 L162.6 49.9 L161.3 48.8 M162.7 58.8 L161 58.9 L159.7 57.8 L158.2 58.5 L157.4 60 M162.1 65.5 L161.6 67.1 L161.9 68.8 L160.3 69.6 L159.1 70.7 M163.9 70.4 L162.2 70.3 L160.6 71.1 L160.4 72.7 L160.3 74.4 M162.7 74.5 L161.3 75.4 L160.1 76.6 L160.6 78.3 L162.2 77.8 M167.7 40.5 L166.2 39.7 L164.8 38.7 L163.1 38.4 L161.7 39.4 M168.8 46 L168.1 44.5 L166.6 43.6 L167.1 41.9 L168.8 41.8 M167.4 50.5 L168.6 49.3 L169.8 50.4 L169.1 52 L169.7 53.5 M170 54.5 L168.9 53.2 L167.2 53.6 L165.9 54.6 L164.2 55 M167.8 59.3 L168.9 58 L170.6 57.8 L171.6 59.2 L170.6 60.6 M169.7 66 L171.4 65.7 L172.8 66.6 L174.2 67.6 L173.2 69 M169 69.8 L167.4 69.2 L166.3 70.6 L165.9 72.2 L167.3 73.2 M167 73.8 L165.6 72.8 L164.6 74.2 L163.1 74.9 L163.4 76.6 M174.4 43.8 L172.7 44.3 L171.7 43 L173 42 L173.2 40.3 M174.1 49.4 L175.4 48.3 L174.8 46.8 L173.4 45.7 L174.4 44.3 M173.3 55.4 L172.7 53.8 L173.7 52.4 L172.3 51.6 L170.6 51.6 M172.7 59.5 L174.3 59.1 L175.6 60.2 L177.2 59.7 L178.9 59.5 M173.9 66 L175.3 65.2 L175.1 63.5 L176.3 62.3 L175.4 60.9 M175 69.4 L176.4 70.4 L178 70.9 L178.5 72.5 L177.2 73.6 M177.7 46.4 L179 45.4 L180.7 45.4 L181.7 46.8 L183.4 46.6 M179.2 51.4 L180.6 52.5 L181.8 51.3 L183.5 51.2 L185.2 51.1 M180.1 54 L179.2 55.4 L177.5 55.3 L176.3 54.1 L175.1 55.3 M178.3 58.9 L177.9 57.3 L176.2 57.6 L175.8 56 L177.5 55.6 M178.7 65.2 L177.2 66 L176.1 67.3 L175.2 68.8 L173.6 69.1 M178 69.4 L176.7 68.3 L175.4 69.4 L174.1 68.4 L172.6 69.2" fill="none" stroke="#1c1c1c" stroke-width="1.6" stroke-linecap="round" stroke-linejoin="round"/>
<rect x="145.3" y="86.5" width="9.8" height="17" rx="2.5" fill="#fff" stroke="#1c1c1c" stroke-width="1.6"/>
<path d="M120.5 149 C120.9 150.5 122.2 155.8 123 158 C123.8 160.2 125.1 161.3 125.5 162" fill="none" stroke="#1c1c1c" stroke-width="1.5" stroke-linecap="round"/>
<path d="M183 149 C182.6 150.5 181.3 155.8 180.5 158 C179.7 160.2 178.4 161.3 178 162" fill="none" stroke="#1c1c1c" stroke-width="1.5" stroke-linecap="round"/>
<path d="M125.5 162 C122.6 163.7 113.6 169 108 172 C102.4 175 99 177 92 180 C85 183 70.3 188.3 66 190" fill="none" stroke="#1c1c1c" stroke-width="2.07" stroke-linecap="round"/>
<path d="M177 160 C180.5 162.5 191.7 171 198 175 C204.3 179 208.7 181.5 215 184 C221.3 186.5 232.5 189 236 190" fill="none" stroke="#1c1c1c" stroke-width="2.07" stroke-linecap="round"/>
<path d="M134 160 C134.9 160.9 138.4 164.5 139.3 165.4" fill="none" stroke="#1c1c1c" stroke-width="1.6" stroke-linecap="round"/>
<path d="M169 160 C168.2 160.9 164.8 164.5 164 165.4" fill="none" stroke="#1c1c1c" stroke-width="1.6" stroke-linecap="round"/>
<path d="M131.6 167.6 C132.2 169.7 133.9 176 135 180 C136.1 184 137.7 189.8 138.2 191.8" fill="none" stroke="#1c1c1c" stroke-width="1.6" stroke-linecap="round"/>
<path d="M173.4 176.4 C172.5 178.2 169.5 183.7 168 187 C166.5 190.3 165.2 194.7 164.6 196.2" fill="none" stroke="#1c1c1c" stroke-width="1.6" stroke-linecap="round"/>
<path d="M82.5 189 C78.8 189 66.8 188.2 60 189 C53.2 189.8 46.8 191.4 42 194 C37.2 196.6 34.3 199.2 31 204.4 C27.7 209.6 24 215.7 22 225 C20 234.3 19.5 246.2 19 260 C18.5 273.8 18.6 295.8 18.9 307.5 C19.2 319.2 21.3 320.8 21 330 C20.7 339.2 19.7 351.4 17.3 363 C14.9 374.6 8.1 389.4 6.6 399.3 C5.1 409.2 7.4 413.9 8.2 422.4 C9 430.8 10.2 433.2 11.5 450 C12.8 466.8 15.8 508.4 16 522.9 C16.2 537.4 14 525.1 12.5 537 C11 548.9 8.3 579.4 7.1 594.3 C5.9 609.2 4.9 620.4 5.4 626.4 C5.9 632.4 8.5 630 10 630 C11.5 630 13.6 627 14.3 626.4" fill="none" stroke="#1c1c1c" stroke-width="2.64" stroke-linecap="round"/>
<path d="M55 250 C56.1 259.6 60.6 294.2 61.9 307.5 C63.2 320.8 63.1 322.1 62.7 330 C62.3 337.9 61 347 59.4 354.7 C57.8 362.4 55.4 368.2 52.8 376.2 C50.2 384.2 45.2 398.2 43.7 402.6" fill="none" stroke="#1c1c1c" stroke-width="2.64" stroke-linecap="round"/>
<path d="M43.7 402.6 L54.4 396" stroke="#1c1c1c" stroke-width="2.3" fill="none"/>
<path d="M54.4 396 C54.7 401.7 56.7 414.8 56 430 C55.3 445.2 52.5 470.9 50 487 C47.5 503.1 41.6 518.1 41 526.4 C40.4 534.7 44 532.8 46.4 537 C48.8 541.2 53.9 542.4 55.4 551.4 C56.9 560.4 56.6 583.6 55.4 590.7 C54.2 597.9 50.6 595.2 48.2 594.3 C45.8 593.3 42.5 589.2 41 585 C39.5 580.8 40.5 572.2 39.3 569 C38.1 565.8 36.4 563.9 34 565.7 C31.6 567.5 26.5 570.5 25 580 C23.5 589.5 26.8 615.2 25 622.9 C23.2 630.6 16.1 625.8 14.3 626.4" fill="none" stroke="#1c1c1c" stroke-width="2.64" stroke-linecap="round"/>
<path d="M51.6 249 C49.3 250.7 40.9 249.6 37.8 259.4 C34.6 269.1 33.9 295.7 32.7 307.5 C31.5 319.3 31 320.8 30.5 330 C30 339.2 29.4 355.9 29.7 363 C30 370.1 30.8 370.1 32.2 372.9 C33.6 375.6 37 378.4 38 379.5" fill="none" stroke="#1c1c1c" stroke-width="2.53" stroke-linecap="round"/>
<path d="M23.9 373.7 C22.7 377.4 17.9 386.8 16.5 396 C15.1 405.2 15.4 418.3 15.7 429 C15.9 439.7 16.6 448.2 18 460 C19.4 471.8 21.9 487.2 24 500 C26.1 512.8 29.3 530.8 30.4 537" fill="none" stroke="#1c1c1c" stroke-width="2.53" stroke-linecap="round"/>
<path d="M23.9 373.7 C25.4 376.9 30.4 386.2 33 392.7 C35.6 399.2 38 402.9 39.6 412.5 C41.2 422.1 43.2 435.4 42.9 450 C42.6 464.6 39.8 485.5 38 500 C36.2 514.5 33 530.8 32 537" fill="none" stroke="#1c1c1c" stroke-width="2.53" stroke-linecap="round"/>
<path d="M43.7 412.5 C44.2 418.8 47.3 437.1 47 450 C46.7 462.9 44.2 475.5 42 490 C39.8 504.5 35.3 529.2 34 537" fill="none" stroke="#1c1c1c" stroke-width="2.3" stroke-linecap="round"/>
<path d="M34.6 354.7 C35.2 358.8 37.4 375.4 38 379.5" fill="none" stroke="#1c1c1c" stroke-width="1.6" stroke-linecap="round"/>
<path d="M90 194 C87 193 76.7 193 70 194 C63.3 195 55.7 197 50 200 C44.3 203 39.7 206.2 36 212 C32.3 217.8 29.3 227 28 235 C26.7 243 27.7 253.2 28 260 C28.3 266.8 28.7 273.7 30 276 C31.3 278.3 34 277.5 36 274 C38 270.5 39.3 260.7 42 255 C44.7 249.3 48 245.2 52 240 C56 234.8 60 230.7 66 224 C72 217.3 84 205 88 200 C92 195 93 195 90 194Z" fill="none" stroke="#1c1c1c" stroke-width="2.64" stroke-linecap="round"/>
<path d="M88 200 C83.3 201.3 66.7 204.7 60 208 C53.3 211.3 51 214.7 48 220 C45 225.3 43 236.7 42 240" fill="none" stroke="#1c1c1c" stroke-width="1.6" stroke-linecap="round"/>
<path d="M55 256 C55.9 260.6 57.9 273.1 60.2 283.4 C62.5 293.7 65.1 304.6 68.8 317.8 C72.5 331 80.2 355.1 82.5 362.5" fill="none" stroke="#1c1c1c" stroke-width="1.5" stroke-linecap="round"/>
<path d="M203.4 183.8 C208.6 184.4 224.6 185.5 234.4 187.2 C244.2 188.9 254.4 191 262 194 C269.6 197 275.3 200.3 280 205 C284.7 209.7 287.5 214.1 290 222 C292.5 229.9 293.5 239.5 295 252.5 C296.5 265.5 298.1 288.8 299 300 C299.9 311.2 300.4 311.8 300.3 320 C300.2 328.2 297.8 339.4 298.4 349 C299 358.6 302.9 366.6 304.2 377.8 C305.5 389 306 405.1 306 416.3 C306 427.5 305 434.3 304.2 445.2 C303.4 456.1 302.8 469.3 301.4 481.6 C300 493.9 297 508.2 295.8 518.8 C294.6 529.3 294 532.5 294 544.9 C294 557.3 296.1 579 295.8 593.3 C295.5 607.6 294 624.3 292.1 630.5 C290.2 636.7 287.2 631.1 284.7 630.5 C282.2 629.9 278.8 634.2 277.2 626.7 C275.6 619.2 277.5 594.5 275.3 585.8 C273.1 577.1 267.9 574.3 264.2 574.6 C260.5 574.9 255.8 587.1 253 587.7 C250.2 588.3 246.5 585.5 247.4 578.4 C248.3 571.3 255.5 553 258.6 544.9 C261.7 536.8 264.4 537.5 266 530 C267.6 522.5 268.1 519.1 267.9 500.2 C267.7 481.2 265.4 435.4 264.7 416.3 C264 397.2 263.9 390.6 263.7 385.5" fill="none" stroke="#1c1c1c" stroke-width="2.64" stroke-linecap="round"/>
<path d="M212 191 C213.3 190.2 231.7 192 240 194 C248.3 196 255.7 198.3 262 203 C268.3 207.7 274 214.5 278 222 C282 229.5 284 240 286 248 C288 256 288.9 262.4 290 270 C291.1 277.6 293.6 293 292.8 293.8 C292 294.6 287.8 281.3 285 275 C282.2 268.7 279.8 261.5 276 256 C272.2 250.5 265.2 245.5 262 242 C258.8 238.5 259.3 236.7 256.7 235 C254.1 233.3 248.5 235.8 246.4 232 C244.3 228.2 246.4 217.5 244 212 C241.6 206.5 237.3 202.5 232 199 C226.7 195.5 210.7 191.8 212 191Z" fill="none" stroke="#1c1c1c" stroke-width="2.64" stroke-linecap="round"/>
<path d="M255 245.7 C253.8 251.4 248.6 267.6 248.1 280 C247.6 292.4 249.6 306.9 252 320 C254.4 333.1 259.7 349.2 262.8 358.5 C265.9 367.8 267.5 371.7 270.5 376 C273.5 380.3 279.2 383.1 281 384.5" fill="none" stroke="#1c1c1c" stroke-width="2.64" stroke-linecap="round"/>
<path d="M280.8 385 C281.3 380.8 283.1 370.1 284 360 C284.9 349.9 286.2 336.4 286 324.7 C285.8 313 284.8 299.9 283 290 C281.2 280.1 279.7 272.4 275 265 C270.3 257.6 258.3 248.9 255 245.7" fill="none" stroke="#1c1c1c" stroke-width="2.64" stroke-linecap="round"/>
<path d="M280.8 385 L293.6 362.4" stroke="#1c1c1c" stroke-width="2.3" fill="none"/>
<path d="M293.6 362.4 C294.9 365 299.7 368.2 301.3 377.8 C302.9 387.4 302.8 408.5 303 420 C303.2 431.5 303.1 435.3 302.3 447 C301.5 458.7 299.7 477.8 298 490 C296.3 502.2 293 515 292 520" fill="none" stroke="#1c1c1c" stroke-width="2.53" stroke-linecap="round"/>
<path d="M263.7 385.5 C265.8 388.4 273.1 395.8 276.2 402.9 C279.2 410 280.4 418.4 282 427.9 C283.6 437.4 285.9 448 285.9 460 C285.9 472 283.4 490.2 282 500 C280.6 509.8 278.9 513 277.2 518.8 C275.5 524.6 272.9 532.3 272 535" fill="none" stroke="#1c1c1c" stroke-width="2.53" stroke-linecap="round"/>
<path d="M281 393.2 C280.5 397.7 277.7 409.1 278.2 420.2 C278.7 431.3 282.6 443.6 284 460 C285.4 476.4 286.1 509 286.5 518.8" fill="none" stroke="#1c1c1c" stroke-width="2.3" stroke-linecap="round"/>
<path d="M248 300 C248.7 306.7 250.2 325.8 252 340 C253.8 354.2 258.2 365.5 259 385.5 C259.8 405.5 257.1 433.4 257 460 C256.9 486.6 258.3 530.8 258.6 544.9" fill="none" stroke="#1c1c1c" stroke-width="1.3" stroke-linecap="round"/>
<path d="M251.6 256 C249.9 264.6 243.9 293.5 241.3 307.5 C238.7 321.5 237.9 329.6 236 340 C234.1 350.4 231 365 230 370" fill="none" stroke="#1c1c1c" stroke-width="1.5" stroke-linecap="round"/>
<path d="M140.7 219 C139.2 216.1 136.7 205.1 132 201.5 C127.3 197.9 120 198.1 112.7 197.7 C105.4 197.3 95.1 196.9 88 199 C80.9 201.1 74.9 205.7 70 210 C65.1 214.3 61.3 216.8 58.8 224.6 C56.3 232.4 53.7 246.1 55 257 C56.3 267.9 60.1 283.2 66.5 290 C72.9 296.8 84.8 297 93.5 297.8 C102.2 298.6 110.8 296.3 118.5 295 C126.2 293.7 135.8 294.7 139.7 290 C143.5 285.3 141.4 278.8 141.6 267 C141.8 255.2 140.8 227 140.7 219" fill="none" stroke="#1c1c1c" stroke-width="2.88" stroke-linecap="round"/>
<path d="M163.1 219 C164.6 216.1 167.1 205.1 171.8 201.5 C176.5 197.9 183.8 198.1 191.1 197.7 C198.4 197.3 208.7 196.9 215.8 199 C222.9 201.1 228.9 205.7 233.8 210 C238.7 214.3 242.5 216.8 245 224.6 C247.5 232.4 250.1 246.1 248.8 257 C247.5 267.9 243.7 283.2 237.3 290 C230.9 296.8 219 297 210.3 297.8 C201.6 298.6 193 296.3 185.3 295 C177.6 293.7 168 294.7 164.1 290 C160.3 285.3 162.4 278.8 162.2 267 C162 255.2 163 227 163.1 219" fill="none" stroke="#1c1c1c" stroke-width="2.88" stroke-linecap="round"/>
<path d="M66 293.5 C70.5 295 84 301.3 93 302.5 C102 303.7 112.2 301.8 120 300.5 C127.8 299.2 136.7 295.5 140 294.5" fill="none" stroke="#1c1c1c" stroke-width="2.53" stroke-linecap="round"/>
<path d="M237.8 293.5 C233.3 295 219.8 301.3 210.8 302.5 C201.8 303.7 191.6 301.8 183.8 300.5 C176 299.2 167.1 295.5 163.8 294.5" fill="none" stroke="#1c1c1c" stroke-width="2.53" stroke-linecap="round"/>
<ellipse cx="90.5" cy="271.3" rx="2.7" ry="2.3" fill="#1c1c1c"/><ellipse cx="90.5" cy="270.8" rx="1.1" ry="0.8" fill="#fff"/>
<ellipse cx="213.3" cy="271.3" rx="2.7" ry="2.3" fill="#1c1c1c"/><ellipse cx="213.3" cy="270.8" rx="1.1" ry="0.8" fill="#fff"/>
<path d="M138.4 304.4 C133.6 299.6 120.6 302.4 112.3 305.7 C104 309 93.2 316.6 88.8 324 C84.4 331.4 85.2 345.2 86.1 350 C87 354.8 84.8 355.3 94 352.7 C103.2 350.1 133.6 342.4 141 334.4 C148.4 326.3 143.2 309.2 138.4 304.4Z" fill="none" stroke="#1c1c1c" stroke-width="2.64" stroke-linecap="round"/>
<path d="M165.4 304.4 C170.2 299.6 183.2 302.4 191.5 305.7 C199.8 309 210.6 316.6 215 324 C219.4 331.4 218.6 345.2 217.7 350 C216.8 354.8 219 355.3 209.8 352.7 C200.7 350.1 170.2 342.4 162.8 334.4 C155.4 326.3 160.6 309.2 165.4 304.4Z" fill="none" stroke="#1c1c1c" stroke-width="2.64" stroke-linecap="round"/>
<path d="M139.7 337 C135.3 331.1 119.9 340.1 112.3 343.6 C104.7 347.1 97.3 352.6 94 358 C90.7 363.4 91.8 372.6 92.7 376.3 C93.6 380 91.6 379.6 99.2 380 C106.8 380.4 131.7 386.1 138.4 378.9 C145.2 371.7 144 342.9 139.7 337Z" fill="none" stroke="#1c1c1c" stroke-width="2.64" stroke-linecap="round"/>
<path d="M164.1 337 C168.5 331.1 183.9 340.1 191.5 343.6 C199.1 347.1 206.5 352.6 209.8 358 C213.1 363.4 212 372.6 211.1 376.3 C210.2 380 212.2 379.6 204.6 380 C197 380.4 172.2 386.1 165.4 378.9 C158.7 371.7 159.8 342.9 164.1 337Z" fill="none" stroke="#1c1c1c" stroke-width="2.64" stroke-linecap="round"/>
<path d="M141 386.7 C134 382.6 107 386.7 99.2 388 C91.4 389.3 94.7 390.8 94 394.5 C93.3 398.2 94 406.9 95.3 410.2 C96.6 413.5 94.2 413.8 101.8 414.2 C109.4 414.6 134.5 417.4 141 412.8 C147.5 408.2 148 390.8 141 386.7Z" fill="none" stroke="#1c1c1c" stroke-width="2.64" stroke-linecap="round"/>
<path d="M162.8 386.7 C169.8 382.6 196.8 386.7 204.6 388 C212.4 389.3 209.2 390.8 209.8 394.5 C210.5 398.2 209.8 406.9 208.5 410.2 C207.2 413.5 209.6 413.8 202 414.2 C194.4 414.6 169.3 417.4 162.8 412.8 C156.3 408.2 155.8 390.8 162.8 386.7Z" fill="none" stroke="#1c1c1c" stroke-width="2.64" stroke-linecap="round"/>
<path d="M108.1 421.9 C114 415.8 139.5 420.9 146.6 421.9 C153.7 422.9 150.3 410.1 150.5 427.7 C150.7 445.3 148.6 511.4 147.6 527.8 C146.6 544.2 148.7 531.7 144.7 525.9 C140.7 520.1 129.1 504.3 123.5 493.1 C117.9 481.9 113.6 470.4 111 458.5 C108.4 446.6 102.2 428 108.1 421.9Z" fill="none" stroke="#1c1c1c" stroke-width="2.64" stroke-linecap="round"/>
<path d="M198.6 421.9 C192.2 416.4 163.3 420.9 156.2 421.9 C149.1 422.9 155.6 410.1 156.2 427.7 C156.8 445.3 159 511.1 160 527.8 C161 544.5 158.1 533.6 162 527.8 C165.9 522 177.8 505.2 183.2 493 C188.6 480.8 192.1 466.5 194.7 454.6 C197.3 442.8 205 427.3 198.6 421.9Z" fill="none" stroke="#1c1c1c" stroke-width="2.64" stroke-linecap="round"/>
<path d="M147 530 C148.7 530.9 154.7 535.5 157.2 535.5 C159.7 535.5 161.2 530.9 162 530" fill="none" stroke="#1c1c1c" stroke-width="1.6" stroke-linecap="round"/>
<path d="M66.5 311 C67.9 315.8 71.1 330.4 75 340 C78.9 349.6 87.8 360.1 90 368.4 C92.2 376.7 88.8 381.4 88 390 C87.2 398.6 86.9 409.6 85 420 C83.1 430.4 79 441.5 76.4 452.7 C73.8 463.9 71 469.5 69.6 487.4 C68.1 505.3 66.8 541.2 67.7 560 C68.6 578.8 73.3 589 74.9 600 C76.5 611 75.3 616 77.5 626 C79.7 636 84.2 648.6 88 660 C91.8 671.4 97.6 684 100.2 694.4 C102.8 704.8 103.1 717.9 103.7 722.6" fill="none" stroke="#1c1c1c" stroke-width="2.64" stroke-linecap="round"/>
<path d="M243 290 C242.6 296.5 242.9 315.9 240.3 329 C237.7 342.1 230.6 354.4 227.3 368.4 C224 382.4 221.9 404.2 220.7 412.8 C219.4 421.4 218 415.5 219.8 420 C221.6 424.5 229.3 432.6 231.6 440 C233.9 447.4 232.5 456.9 233.8 464.2 C235.1 471.5 237.7 473.4 239.3 484 C241 494.6 243.3 513.9 243.7 528 C244 542.1 242.8 556.5 241.4 568.5 C240 580.5 237.2 588.9 235.1 600 C233 611.1 231.6 621.9 229 635 C226.4 648.1 221.9 667.6 219.4 678.6 C216.9 689.6 215 694 214.1 701.3 C213.2 708.6 214.1 719 214.1 722.6" fill="none" stroke="#1c1c1c" stroke-width="2.64" stroke-linecap="round"/>
<path d="M88.9 423.8 C92.3 427.3 105.7 441.5 109.1 445" fill="none" stroke="#1c1c1c" stroke-width="1.6" stroke-linecap="round"/>
<path d="M217.8 423.8 C215.2 428.3 205 446.3 202.4 450.8" fill="none" stroke="#1c1c1c" stroke-width="1.6" stroke-linecap="round"/>
<path d="M98.5 471 C95.3 472.6 86.8 473.9 83.1 483.5 C79.3 493.1 76.3 514.4 76 528.5 C75.7 542.6 79.3 556.1 81 568 C82.7 579.9 83 587.2 86.2 600 C89.4 612.8 95.6 630.7 100 645 C104.4 659.3 109.5 678.6 112.4 685.7 C115.4 692.8 115.5 688.1 117.7 687.4 C119.9 686.7 124.7 683.6 125.6 681.3 C126.5 679 123.7 681.1 123 673.4 C122.3 665.7 120.2 647.2 121.2 635 C122.2 622.8 127.3 612.5 129 600 C130.7 587.5 132.1 570.8 131.2 560 C130.3 549.2 127 545.4 123.5 535.5 C120 525.6 113.5 511.1 110 500.8 C106.5 490.6 104.2 479 102.3 474 C100.4 469 101.7 469.4 98.5 471Z" fill="none" stroke="#1c1c1c" stroke-width="2.64" stroke-linecap="round"/>
<path d="M212 469 C214.8 469.4 220.4 471.2 224 477.4 C227.6 483.6 231.7 497.2 233.8 506 C235.9 514.8 236.8 520.4 236.6 530 C236.4 539.6 235.2 552 232.8 563.7 C230.4 575.4 225.7 588.1 222 600 C218.3 611.9 214.3 622.2 210.7 635 C207.1 647.8 202.5 668.5 200.2 676.9 C197.9 685.3 199 685 196.7 685.6 C194.4 686.2 187.4 687.3 186.2 680.3 C185 673.3 190.3 657.1 189.7 643.7 C189.1 630.3 184.1 614 182.7 600 C181.3 586 181 570.2 181.3 560 C181.6 549.8 181.7 546.9 184.4 539 C187.1 531.1 193.8 523.2 197.6 512.5 C201.4 501.8 205.1 482.2 207.5 475 C209.9 467.8 209.2 468.6 212 469Z" fill="none" stroke="#1c1c1c" stroke-width="2.64" stroke-linecap="round"/>
<path d="M110.7 701.4 C111 699.1 109.9 692.1 112.4 687.4 C114.9 682.7 121.7 675.1 125.6 673.4 C129.5 671.7 132.7 674.7 136 677 C139.3 679.3 144.1 685.7 145.7 687.4" fill="none" stroke="#1c1c1c" stroke-width="2.18" stroke-linecap="round"/>
<path d="M95.8 626 C96.7 627.8 100.1 634.9 101 636.7" fill="none" stroke="#1c1c1c" stroke-width="1.5" stroke-linecap="round"/>
<path d="M170.5 695.2 C171.8 693.7 175.4 688.3 178 686 C180.6 683.7 182.8 681.3 186.2 681.2 C189.6 681.1 195.1 682.2 198.4 685.6 C201.8 689 205 698.7 206.3 701.3" fill="none" stroke="#1c1c1c" stroke-width="2.18" stroke-linecap="round"/>
<path d="M157.2 535.5 C157.2 550 157 607.8 157 622.3" fill="none" stroke="#1c1c1c" stroke-width="1.6" stroke-linecap="round"/>
<path d="M157 622 C156.3 626.7 153.3 637 153 650 C152.7 663 154.1 688 155 700 C155.9 712 157.7 718.3 158.2 722" fill="none" stroke="#1c1c1c" stroke-width="2.18" stroke-linecap="round"/>
<path d="M157 622 C157.8 626.7 161.3 637 162 650 C162.7 663 161.6 688 161 700 C160.4 712 158.7 718.3 158.2 722" fill="none" stroke="#1c1c1c" stroke-width="2.18" stroke-linecap="round"/>
<path d="M117.7 708.4 C118.4 710.4 121.3 718.6 122 720.6" fill="none" stroke="#1c1c1c" stroke-width="1.7" stroke-linecap="round"/>
<path d="M201 716 C201.6 715.5 203.9 713.2 204.5 712.7" fill="none" stroke="#1c1c1c" stroke-width="1.7" stroke-linecap="round"/>
<path d="M171.4 710 C172 711.8 174.2 718.8 174.8 720.5" fill="none" stroke="#1c1c1c" stroke-width="1.7" stroke-linecap="round"/>
<path d="M218.5 630.6 C218.1 631.3 216.3 634.3 215.9 635" fill="none" stroke="#1c1c1c" stroke-width="1.5" stroke-linecap="round"/>
<path d="M216.3 455 C216.1 458 215.4 470 215.2 473" fill="none" stroke="#1c1c1c" stroke-width="1.5" stroke-linecap="round"/>
<rect x="0" y="722.5" width="330" height="5" fill="#fff"/>
</g>

<!-- dashed box -->
<rect x="721.9" y="154.4" width="584.9" height="545.6" fill="#eaf5fc"/>
<g stroke="#1c1c1c" stroke-width="2.4" stroke-dasharray="8.6 6.67" fill="none">
<path d="M720.8 154.4 H1308"/>
<path d="M721.9 153.3 V701" stroke-dashoffset="6.57"/>
<path d="M1306.8 153.3 V701" stroke-dashoffset="6.37"/>
<path d="M720.8 700 H1308" stroke-dashoffset="3.57"/>
</g>

<path d="M900.5 73.4 L896.5 66 C894.5 46 912 33.3 931.6 33.3 C946 33.3 957 40 962.6 49.2 C968 45 978 43.6 989.8 43.9 C1008 44.5 1021 55 1020.8 66 C1020.6 71 1019.5 74 1017.8 77.2 C1033 80 1043.5 89 1043.5 100.6 C1043.5 117 1032 128.5 1018 128.5 H893 C878 128.5 869.5 115 869.5 100 C869.5 85 882 75 900.5 73.4Z" fill="#fff" stroke="#1c1c1c" stroke-width="2.9" stroke-linejoin="round"/>
<g fill="none" stroke="#1c1c1c" stroke-width="1.3">
<rect x="892.8" y="84.3" width="12" height="28.6" rx="0.8"/>
<path d="M896 88 H902 M895.5 101.6 H902.5 M895.5 104.6 H902.5 M895.5 107.8 H902.5" stroke-width="1.2"/>
<rect x="909.2" y="91.7" width="22.8" height="16.2" rx="1.5"/>
<path d="M909.2 106.4 H932" />
<path d="M914.4 102.8 L920.2 97 M917.4 103.6 L927 95.4" stroke-width="1.1"/>
<path d="M919 107.9 V112 M922.3 107.9 V112 M915.8 112.6 H925.5" stroke-width="1.3"/>
</g>
<g fill="none" stroke="#1c1c1c" stroke-width="1.3">
<rect x="939.7" y="84.3" width="12" height="28.6" rx="0.8"/>
<path d="M942.9 88 H948.9 M942.4 101.6 H949.4 M942.4 104.6 H949.4 M942.4 107.8 H949.4" stroke-width="1.2"/>
<rect x="956.1" y="91.7" width="22.8" height="16.2" rx="1.5"/>
<path d="M956.1 106.4 H978.9" />
<path d="M961.3 102.8 L967.1 97 M964.3 103.6 L973.9 95.4" stroke-width="1.1"/>
<path d="M965.9 107.9 V112 M969.2 107.9 V112 M962.7 112.6 H972.4" stroke-width="1.3"/>
</g>
<g fill="none" stroke="#1c1c1c" stroke-width="1.3">
<rect x="986.6" y="84.3" width="12" height="28.6" rx="0.8"/>
<path d="M989.8 88 H995.8 M989.3 101.6 H996.3 M989.3 104.6 H996.3 M989.3 107.8 H996.3" stroke-width="1.2"/>
<rect x="1003" y="91.7" width="22.8" height="16.2" rx="1.5"/>
<path d="M1003 106.4 H1025.8" />
<path d="M1008.2 102.8 L1014 97 M1011.2 103.6 L1020.8 95.4" stroke-width="1.1"/>
<path d="M1012.8 107.9 V112 M1016.1 107.9 V112 M1009.6 112.6 H1019.3" stroke-width="1.3"/>
</g>
<path d="M958.4 131 V195" stroke="#1c1c1c" stroke-width="1.8"/>
<path d="M955.2 137 L958.4 131.5 L961.6 137 M955.2 189.5 L958.4 195 L961.6 189.5" stroke="#1c1c1c" stroke-width="1.6" fill="none"/>
<g stroke="#1c1c1c" stroke-width="2.3" fill="none">
<path d="M898.8 216 H859.4 V257.5"/>
<path d="M1005.3 216 H1053 V241.8"/>
<path d="M833.5 322.1 V393"/>
<path d="M915.7 346.3 V393.3"/>
<path d="M871.4 393 V435.6"/>
<path d="M834.9 463.5 H780.4 V481"/>
<path d="M884.4 506.7 H907.3 V560"/>
<path d="M848.4 521.6 V591.7 H794"/>
<path d="M1097 311 V339"/>
<path d="M1097 412.5 V445.5"/>
<path d="M1046.7 521 V585.4"/>
<path d="M1096.4 521 V542 L1129.7 575 V600.7"/>
<path d="M1146 521 V531.3 L1191.8 579.4 V591"/>
</g>
<path d="M752.5 393.2 C800 391.8 920 391.8 966 393.2 C920 394.6 800 394.6 752.5 393.2Z" fill="#1c1c1c" stroke="#1c1c1c" stroke-width="0.8"/>
<rect x="899.1" y="196" width="109" height="39.9" rx="5.7" fill="#fff" stroke="#1c1c1c" stroke-width="2.1"/>
<rect x="903.9" y="200.3" width="99.4" height="31.3" rx="1" fill="#fff" stroke="#1c1c1c" stroke-width="1.9"/>
<rect x="908.1" y="203.6" width="11" height="5.7" fill="#1c1c1c"/>
<rect x="946.2" y="203.6" width="10.5" height="5.7" fill="#1c1c1c"/>
<rect x="946.2" y="212.2" width="10.5" height="5.7" fill="#1c1c1c"/>
<rect x="960" y="203.6" width="10.5" height="5.7" fill="#1c1c1c"/>
<rect x="960" y="212.2" width="10.5" height="5.7" fill="#1c1c1c"/>
<rect x="973.4" y="203.6" width="10.5" height="5.7" fill="#1c1c1c"/>
<rect x="973.4" y="212.2" width="10.5" height="5.7" fill="#1c1c1c"/>
<rect x="987.2" y="203.6" width="10.5" height="5.7" fill="#1c1c1c"/>
<rect x="987.2" y="212.2" width="10.5" height="5.7" fill="#1c1c1c"/>
<circle cx="898.8" cy="216" r="6" fill="#fff"/>
<circle cx="898.8" cy="216" r="4.8" fill="#1c1c1c"/>
<circle cx="1005.3" cy="216" r="6" fill="#fff"/>
<circle cx="1005.3" cy="216" r="4.8" fill="#1c1c1c"/>
<rect x="771.6" y="257.9" width="101.8" height="63.6" rx="5" fill="#fff" stroke="#1c1c1c" stroke-width="2.2"/>
<path d="M771.6 277.7 H873.4" stroke="#1c1c1c" stroke-width="1.8"/>
<path d="M790.9 277.7 V321.5 M810.1 277.7 V321.5 M825.5 277.7 V321.5 M845.1 277.7 V321.5" stroke="#1c1c1c" stroke-width="1.6"/>
<path d="M771.6 309.4 H790.9 M771.6 312.2 H790.9" stroke="#1c1c1c" stroke-width="1.3"/>
<circle cx="779" cy="282.5" r="1.7" fill="none" stroke="#1c1c1c" stroke-width="1.1"/>
<circle cx="785.4" cy="282.5" r="1.7" fill="none" stroke="#1c1c1c" stroke-width="1.1"/>
<circle cx="859.4" cy="257.5" r="6.4" fill="#fff"/>
<circle cx="859.4" cy="257.5" r="5.2" fill="#1c1c1c"/>
<circle cx="833.5" cy="322.1" r="6.4" fill="#fff"/>
<circle cx="833.5" cy="322.1" r="5.2" fill="#1c1c1c"/>
<rect x="1039" y="242.5" width="110.3" height="67.5" rx="5" fill="#fff" stroke="#1c1c1c" stroke-width="2.2"/>
<path d="M1039 263.2 H1149.3" stroke="#1c1c1c" stroke-width="1.8"/>
<path d="M1059.6 263.2 V310 M1081.2 263.2 V310 M1097 263.2 V310 M1119.5 263.2 V310" stroke="#1c1c1c" stroke-width="1.6"/>
<path d="M1039 296.8 H1059.6 M1039 300.1 H1059.6" stroke="#1c1c1c" stroke-width="1.3"/>
<circle cx="1047.5" cy="268" r="1.7" fill="none" stroke="#1c1c1c" stroke-width="1.1"/>
<circle cx="1054" cy="268" r="1.7" fill="none" stroke="#1c1c1c" stroke-width="1.1"/>
<circle cx="1053" cy="241.8" r="6.4" fill="#fff"/>
<circle cx="1053" cy="241.8" r="5.2" fill="#1c1c1c"/>
<circle cx="1097" cy="311" r="6.4" fill="#fff"/>
<circle cx="1097" cy="311" r="5.2" fill="#1c1c1c"/>
<rect x="893.3" y="297.4" width="50" height="49.6" rx="6" fill="#fff" stroke="#1c1c1c" stroke-width="2.1"/>
<g fill="none" stroke="#1c1c1c" stroke-width="1.2">
<rect x="896.8" y="303.4" width="14.5" height="4.4" rx="0.8"/>
<circle cx="899.1" cy="313" r="1.7"/><circle cx="899.1" cy="319.4" r="1.7"/><circle cx="906.9" cy="315.6" r="3.4"/>
<rect x="914.2" y="308.4" width="14.2" height="4.2" rx="0.8"/><rect x="914.2" y="317.4" width="14.2" height="4.2" rx="0.8"/>
<path d="M914.5 315.2 H928.5 M914.5 324.5 H928.5" stroke-dasharray="1.2 0.9"/>
<path d="M931.5 310 H939.6 M931.5 314.7 H939.6 M931.5 319 H939.6 M931.5 323.3 H939.6"/>
<path d="M900 331.4 H910.6 V333 M900 335.6 H910.6 V337 M900 340.3 H910.6 V341.5"/>
<rect x="914.2" y="331.9" width="8.3" height="2.9" rx="0.5"/><rect x="914.2" y="337.4" width="8.3" height="2.9" rx="0.5"/>
<rect x="931.5" y="331.9" width="8" height="2.9" rx="0.5"/><rect x="931.5" y="337.4" width="8" height="2.9" rx="0.5"/>
<path d="M923.5 335 L925 331.5 L926.5 335 M927 331.5 L928.3 335 L929.6 331.5 M923.5 340.5 L925 337 L926.5 340.5 M927 337 L928.3 340.5 L929.6 337" stroke-width="0.9"/>
</g>
<circle cx="915.7" cy="346.3" r="5.9" fill="#fff"/>
<circle cx="915.7" cy="346.3" r="4.7" fill="#1c1c1c"/>
<circle cx="833.6" cy="393.2" r="5.1" fill="#1c1c1c"/>
<circle cx="871.5" cy="393.2" r="5.1" fill="#1c1c1c"/>
<circle cx="916" cy="393.2" r="5.1" fill="#1c1c1c"/>
<rect x="835.6" y="435.2" width="47.8" height="83.3" rx="5.5" fill="#fff" stroke="#1c1c1c" stroke-width="2"/>
<g fill="none" stroke="#1c1c1c" stroke-width="1.1">
<rect x="841" y="441.5" width="8.3" height="3" rx="0.4"/>
<rect x="852.8" y="441.5" width="8.3" height="3" rx="0.4"/>
<rect x="864.5" y="441.5" width="8.3" height="3" rx="0.4"/>
<circle cx="844.2" cy="455.5" r="1.6"/>
<circle cx="844.2" cy="462.7" r="1.6"/>
<circle cx="844.2" cy="470" r="1.6"/>
<circle cx="844.2" cy="476.9" r="1.6"/>
<circle cx="844.2" cy="484.2" r="1.6"/>
<circle cx="844.2" cy="491.3" r="1.6"/>
<circle cx="844.2" cy="498.6" r="1.6"/>
<circle cx="844.2" cy="506.4" r="1.6"/>
<circle cx="852.8" cy="451.4" r="1.6"/>
<circle cx="852.8" cy="458.6" r="1.6"/>
<circle cx="852.8" cy="465.8" r="1.6"/>
<circle cx="852.8" cy="473.1" r="1.6"/>
<circle cx="852.8" cy="480.3" r="1.6"/>
<circle cx="852.8" cy="487.5" r="1.6"/>
<circle cx="852.8" cy="494.7" r="1.6"/>
<circle cx="852.8" cy="506.4" r="1.6"/>
<rect x="866.5" y="449.3" width="11" height="39.3" stroke-width="1.3"/>
<rect x="842.5" y="511.3" width="10.3" height="4.1" stroke-width="1.2"/>
</g>
<circle cx="868.6" cy="502.3" r="10.8" fill="#1c1c1c"/>
<path d="M861.5 502 L867.5 495.5 L873 501 M864 503.5 L869.5 509 L875.5 502.5" stroke="#fff" stroke-width="2.6" fill="none" stroke-linejoin="miter"/>
<circle cx="871.4" cy="435.6" r="6.2" fill="#fff"/>
<circle cx="871.4" cy="435.6" r="5" fill="#1c1c1c"/>
<circle cx="834.9" cy="463.5" r="6.2" fill="#fff"/>
<circle cx="834.9" cy="463.5" r="5" fill="#1c1c1c"/>
<circle cx="884.4" cy="506.7" r="6.2" fill="#fff"/>
<circle cx="884.4" cy="506.7" r="5" fill="#1c1c1c"/>
<circle cx="848.4" cy="521.6" r="6.2" fill="#fff"/>
<circle cx="848.4" cy="521.6" r="5" fill="#1c1c1c"/>
<g fill="#fff" stroke="#1c1c1c" stroke-width="1.8">
<rect x="774.2" y="505" width="9" height="37.7"/>
<rect x="772.3" y="542.7" width="12.4" height="9.8" stroke-width="1.9"/>
<path d="M772.3 547.5 H784.7" fill="none"/>
<rect x="774.4" y="552.5" width="8.4" height="8.2"/>
</g>
<path d="M797.6 533.5 V508.8 A4.6 4.6 0 0 1 806.8 508.8 V533.5 A9.6 9.6 0 1 1 797.6 533.5Z" fill="#fff" stroke="#1c1c1c" stroke-width="2"/>
<circle cx="802.2" cy="540.3" r="6" fill="#1c1c1c"/><rect x="800.6" y="518.5" width="3.2" height="19" fill="#1c1c1c"/>
<path d="M809.1 512.5 H813.7 M809.1 515.8 H813.7 M809.1 519.1 H813.7 M809.1 522.4 H813.7 M809.1 525.7 H813.7 M809.1 529 H813.7" stroke="#1c1c1c" stroke-width="1.2"/>
<g fill="#fff" stroke="#1c1c1c" stroke-width="1.8">
<rect x="904.3" y="566.5" width="6" height="10" stroke-width="1.4"/>
<path d="M903.6 570.5 H911 M903.6 573.5 H911" fill="none" stroke-width="1.4"/>
<rect x="903.9" y="576.6" width="7" height="40.2"/>
<rect x="901.3" y="616.8" width="12.2" height="7.4" stroke-width="1.9"/>
<path d="M901.3 620.3 H913.5" fill="none"/>
<rect x="903.9" y="624.2" width="7" height="8.5"/>
</g>
<g fill="none" stroke="#1c1c1c" stroke-width="1.5">
<path d="M932.2 587.9 A6.8 6.8 0 0 0 932.2 598.7"/>
<path d="M928.4 583.1 A13 13 0 0 0 928.4 603.5"/>
<path d="M924.2 577.7 A19.8 19.8 0 0 0 924.2 608.9"/>
<path d="M939.5 575.4 V611.2" stroke-width="1.8"/>
</g>
<path d="M939.5 590.6 A2.7 2.7 0 0 0 939.5 596 Z" fill="#1c1c1c"/>
<circle cx="937.5" cy="593.3" r="2.6" fill="#1c1c1c"/>
<circle cx="907.3" cy="559.9" r="5" fill="#1c1c1c"/>
<path d="M775.4 597.8 V634.5 H850.8 V598" fill="#fff" stroke="#1c1c1c" stroke-width="1.9"/>
<rect x="776" y="593" width="74" height="41" fill="#fff"/>
<path d="M775.4 597.8 V634.5 H850.8 V598.5" fill="none" stroke="#1c1c1c" stroke-width="1.9"/>
<path d="M775.4 597.8 H794" stroke="#1c1c1c" stroke-width="1.9"/>
<path d="M766.1 595.3 H775.4 V609.7 H766.1Z M766.1 615.9 H775.4 V630.9 H766.1Z" fill="#1c1c1c"/>
<path d="M772.5 601 H776 V605 H772.5Z M772.5 621 H776 V625 H772.5Z" fill="#fff"/>
<rect x="805.3" y="605.6" width="16.6" height="5.7" fill="#1c1c1c"/>
<rect x="826" y="606.1" width="3.1" height="3.6" fill="#1c1c1c"/>
<rect x="832.7" y="606.1" width="3.1" height="3.6" fill="#1c1c1c"/>
<rect x="838.9" y="606.1" width="3.1" height="3.6" fill="#1c1c1c"/>
<g fill="none" stroke="#1c1c1c" stroke-width="1">
<circle cx="786.5" cy="619" r="1.7"/>
<circle cx="802.6" cy="619" r="1.7"/>
<circle cx="818.6" cy="619" r="1.7"/>
<circle cx="834.8" cy="619" r="1.7"/>
<circle cx="794.5" cy="629.3" r="1.7"/>
<circle cx="810.5" cy="629.3" r="1.7"/>
<circle cx="826.5" cy="629.3" r="1.7"/>
<circle cx="842.8" cy="629.3" r="1.7"/>
</g>
<rect x="783.2" y="634.5" width="4.6" height="4.6" fill="#1c1c1c"/>
<rect x="791.5" y="634.5" width="4.6" height="4.6" fill="#1c1c1c"/>
<rect x="799.8" y="634.5" width="4.6" height="4.6" fill="#1c1c1c"/>
<rect x="808.1" y="634.5" width="4.6" height="4.6" fill="#1c1c1c"/>
<rect x="816.4" y="634.5" width="4.6" height="4.6" fill="#1c1c1c"/>
<rect x="824.7" y="634.5" width="4.6" height="4.6" fill="#1c1c1c"/>
<rect x="833" y="634.5" width="4.6" height="4.6" fill="#1c1c1c"/>
<rect x="841.3" y="634.5" width="4.6" height="4.6" fill="#1c1c1c"/>
<circle cx="848.2" cy="591.7" r="5.2" fill="#1c1c1c"/>
<rect x="1039.7" y="339.2" width="109.2" height="73.6" rx="6.5" fill="#fff" stroke="#1c1c1c" stroke-width="2.1"/>
<rect x="1045.6" y="348" width="98.5" height="55.8" fill="#fff" stroke="#1c1c1c" stroke-width="2"/>
<text x="1095.5" y="371.8" text-anchor="middle" style="font-size:15.2px;fill:#1c1c1c;stroke:#1c1c1c;stroke-width:0.3px" textLength="77" lengthAdjust="spacingAndGlyphs">10BASE-T1L</text>
<text x="1095.5" y="390" text-anchor="middle" style="font-size:15.2px;fill:#1c1c1c;stroke:#1c1c1c;stroke-width:0.3px" textLength="93" lengthAdjust="spacingAndGlyphs">Power Switch</text>
<rect x="1039.7" y="447" width="109.2" height="72.5" rx="6.5" fill="#fff" stroke="#1c1c1c" stroke-width="2.1"/>
<rect x="1045.6" y="456" width="98.5" height="55.8" fill="#fff" stroke="#1c1c1c" stroke-width="2"/>
<text x="1095.5" y="478.5" text-anchor="middle" style="font-size:15.2px;fill:#1c1c1c;stroke:#1c1c1c;stroke-width:0.3px" textLength="75.5" lengthAdjust="spacingAndGlyphs">10BASE-T1L</text>
<text x="1095.5" y="496.3" text-anchor="middle" style="font-size:15.2px;fill:#1c1c1c;stroke:#1c1c1c;stroke-width:0.3px" textLength="83" lengthAdjust="spacingAndGlyphs">Field Switch</text>
<circle cx="1097" cy="338.8" r="6.2" fill="#fff"/>
<circle cx="1097" cy="338.8" r="5" fill="#1c1c1c"/>
<circle cx="1097" cy="412.5" r="6.2" fill="#fff"/>
<circle cx="1097" cy="412.5" r="5" fill="#1c1c1c"/>
<circle cx="1097" cy="445.5" r="6.2" fill="#fff"/>
<circle cx="1097" cy="445.5" r="5" fill="#1c1c1c"/>
<circle cx="1046.7" cy="520.6" r="6.2" fill="#fff"/>
<circle cx="1046.7" cy="520.6" r="5" fill="#1c1c1c"/>
<circle cx="1071.5" cy="520.6" r="6.2" fill="#fff"/>
<circle cx="1071.5" cy="520.6" r="5" fill="#1c1c1c"/>
<circle cx="1096.4" cy="520.6" r="6.2" fill="#fff"/>
<circle cx="1096.4" cy="520.6" r="5" fill="#1c1c1c"/>
<circle cx="1121" cy="520.6" r="6.2" fill="#fff"/>
<circle cx="1121" cy="520.6" r="5" fill="#1c1c1c"/>
<circle cx="1146" cy="520.6" r="6.2" fill="#fff"/>
<circle cx="1146" cy="520.6" r="5" fill="#1c1c1c"/>
<path d="M1046.7 520.6 H1146" stroke="#1c1c1c" stroke-width="2.1"/>
<circle cx="1046.7" cy="520.6" r="5" fill="#1c1c1c"/>
<circle cx="1071.5" cy="520.6" r="5" fill="#1c1c1c"/>
<circle cx="1096.4" cy="520.6" r="5" fill="#1c1c1c"/>
<circle cx="1121" cy="520.6" r="5" fill="#1c1c1c"/>
<circle cx="1146" cy="520.6" r="5" fill="#1c1c1c"/>
<g fill="#fff" stroke="#1c1c1c" stroke-width="1.6">
<path d="M1021.5 619 L1025 617.5 L1033.5 622 V638.5 L1025 643 L1021.5 641.5Z"/>
<path d="M1067.5 619 L1064 617.5 L1055 622 V638.5 L1064 643 L1067.5 641.5Z"/>
<path d="M1024.7 618.5 V642 M1027.5 619.5 V641 M1064.3 618.5 V642 M1061.5 619.5 V641" fill="none" stroke-width="1"/>
<rect x="1034" y="620.3" width="20.8" height="21" rx="3" stroke-width="2"/>
<rect x="1039.4" y="631.8" width="10.6" height="7.6" stroke-width="1.4"/>
<rect x="1041.6" y="613.5" width="6.4" height="7" stroke-width="1.5"/>
<path d="M1037.5 613.8 C1038 609 1041 607.8 1044.7 607.8 C1048.5 607.8 1051 609 1051.5 613.8Z" stroke-width="1.6"/>
<rect x="1041.6" y="603" width="6.4" height="4.8" stroke-width="1.4"/>
<rect x="1027.5" y="582.3" width="8" height="4" rx="1.5" stroke-width="1.4"/>
<circle cx="1044.2" cy="593.7" r="11.4" stroke-width="2.6"/>
<circle cx="1044.2" cy="594.5" r="7" stroke-width="1.5"/>
<path d="M1038 591.5 H1050.5 M1038 595 H1050.5" fill="none" stroke-width="1.3"/>
</g>
<circle cx="1046.5" cy="585.4" r="5" fill="#1c1c1c"/>
<g fill="#fff" stroke="#1c1c1c" stroke-width="1.5">
<circle cx="1122.3" cy="598" r="14" fill="none" stroke-width="1.3"/>
<rect x="1076.5" y="621.5" width="11" height="14" stroke-width="1.5"/>
<path d="M1080.5 621.5 V635.5 M1084 621.5 V635.5" fill="none" stroke-width="1"/>
<rect x="1088" y="616.5" width="4.5" height="24" fill="#bbb" stroke-width="1.4"/>
<rect x="1092.5" y="620.5" width="8.5" height="16" stroke-width="1.4"/>
<rect x="1101" y="615" width="4.5" height="26" stroke-width="1.4"/>
<path d="M1105.5 619.5 C1115 618 1120 617 1135 615.5 V637.5 C1126 634.5 1121 631.5 1114 635 C1110 637.5 1107 637 1105.5 637Z" stroke-width="1.8"/>
<circle cx="1135" cy="617" r="1.7" stroke-width="1.2"/>
<circle cx="1144" cy="617" r="1.7" stroke-width="1.2"/>
<circle cx="1135" cy="622.5" r="1.7" stroke-width="1.2"/>
<circle cx="1144" cy="622.5" r="1.7" stroke-width="1.2"/>
<circle cx="1135" cy="628" r="1.7" stroke-width="1.2"/>
<circle cx="1144" cy="628" r="1.7" stroke-width="1.2"/>
<circle cx="1135" cy="633.5" r="1.7" stroke-width="1.2"/>
<circle cx="1144" cy="633.5" r="1.7" stroke-width="1.2"/>
<circle cx="1135" cy="639" r="1.7" stroke-width="1.2"/>
<circle cx="1144" cy="639" r="1.7" stroke-width="1.2"/>
<rect x="1137.3" y="613" width="4.5" height="29.5" fill="#bbb" stroke-width="1.4"/>
<rect x="1111.5" y="598" width="25" height="26" rx="6" transform="rotate(28 1124 611)" stroke-width="2.4"/>
<rect x="1116" y="604" width="9" height="9" rx="1" transform="rotate(28 1124 611)" stroke-width="1.5"/>
</g>
<circle cx="1129.3" cy="600.7" r="4.8" fill="#1c1c1c"/>
<g fill="#fff" stroke="#1c1c1c" stroke-width="1.5">
<rect x="1157" y="594.5" width="8" height="12" rx="1.5"/>
<rect x="1165" y="593" width="5" height="15" rx="0.8"/>
<rect x="1170" y="592.8" width="11" height="15.5" rx="1"/>
<rect x="1180.5" y="589.5" width="4.5" height="14" rx="1"/>
<rect x="1228.5" y="594.5" width="8" height="12" rx="1.5"/>
<rect x="1223.5" y="593" width="5" height="15" rx="0.8"/>
<rect x="1212.5" y="592.8" width="11" height="15.5" rx="1"/>
<rect x="1208.5" y="589.5" width="4.5" height="14" rx="1"/>
<path d="M1182 628 V644 A3 3 0 0 0 1185 647 H1208 A3 3 0 0 0 1211 644 V628" stroke-width="1.5"/>
<path d="M1182.5 636 H1210.5" fill="none" stroke-width="1.2"/>
<rect x="1211.5" y="626.5" width="7" height="6.5" rx="3" stroke-width="1.4"/>
<circle cx="1196.2" cy="615" r="18.6" stroke-width="2.6"/>
<circle cx="1196.2" cy="615" r="12" stroke-width="1.4"/>
<rect x="1187.6" y="608.8" width="17.8" height="10.3" rx="1.5" stroke-width="1.4"/>
<path d="M1189.5 622 H1203.5" fill="none" stroke-width="1.2"/>
</g>
<circle cx="1191.5" cy="591" r="5" fill="#1c1c1c"/>
<path d="M1250.5 608.6 H1272.8 L1282.3 626.2 L1272.8 643.7 H1250.5 L1241 626.2Z" fill="none" stroke="#1c1c1c" stroke-width="2.6" stroke-linejoin="miter"/>
<path d="M1263.5 619.5 C1259 616.5 1253 617.5 1253 621.8 C1253 624.3 1255.5 625.8 1258.5 625.8 C1255 625.8 1252.3 627.5 1252.3 630.5 C1252.3 635.5 1259.5 636 1264 633" fill="none" stroke="#1c1c1c" stroke-width="3.6" stroke-linecap="round"/>
<path d="M1265.8 626.5 L1271.8 636 M1271.8 626.5 L1265.8 636" stroke="#1c1c1c" stroke-width="1.3"/>
<g style="font-size:16.3px;fill:#1c1c1c;stroke:#1c1c1c;stroke-width:0.35px">
<text x="880" y="179.5" textLength="68.5" lengthAdjust="spacingAndGlyphs">Gateway</text>
<text x="773.3" y="245.4" textLength="74.5" lengthAdjust="spacingAndGlyphs">PLC/DCS</text>
<text x="1060.2" y="230.6" textLength="74.5" lengthAdjust="spacingAndGlyphs">PLC/DCS</text>
<text x="903.2" y="284.5" textLength="29" lengthAdjust="spacingAndGlyphs">HMI</text>
</g>
<!-- blue connecting lines -->
<g class="blue">
<path d="M185.5 53.2 H447"/>
<path d="M564 53.2 H889.7"/>
<path d="M162 237.5 L242.5 198 H447"/>
<path d="M564 198 H700.5 L789.7 389.6"/>
<path d="M98.7 112 V272.2 L246 357.5 H447"/>
<path d="M564 356.8 H701 L778.7 492.9"/>
<path d="M302.3 459.9 L344.3 494.3 H447"/>
<path d="M564 493.5 H701 L780 585.3"/>
<path d="M237 648.5 H447"/>
<path d="M564 648.4 H721.9"/>
</g>

<g class="bc">
<circle cx="185.5" cy="53" r="12.6"/>
<circle cx="889.2" cy="53" r="12.6"/>
<circle cx="98.7" cy="112.2" r="12.6"/>
<circle cx="162" cy="237.5" r="12.6"/>
<circle cx="789.7" cy="389.6" r="12.6"/>
<circle cx="778.1" cy="494" r="12.6"/>
<circle cx="302.3" cy="459.9" r="12.6"/>
<circle cx="780.1" cy="585.5" r="12.6"/>
<circle cx="237" cy="648.5" r="12.6"/>
<circle cx="721.9" cy="648.9" r="12.6"/>
</g>
<!-- central arcs -->
<g class="blue" id="arcs" style="stroke-width:3.2">
<path d="M454.7 90.4 A57.8 57.8 0 1 1 556.7 90.4"/>
<path d="M454.7 236.7 A57.8 57.8 0 1 1 556.7 236.7"/>
<path d="M454.7 385.4 A57.8 57.8 0 1 1 556.7 385.4"/>
<path d="M454.7 531.9 A57.8 57.8 0 1 1 556.7 531.9"/>
<path d="M454.7 679.0 A57.8 57.8 0 1 1 556.7 679.0"/>
</g>

<g stroke="#1c1c1c" stroke-width="1.95" fill="none">
<rect x="493.5" y="42.9" width="24.3" height="23.7"/>
<circle cx="490.3" cy="24.7" r="3.0"/>
<circle cx="490.3" cy="84.8" r="3.0"/>
<circle cx="520.3" cy="24.7" r="3.0"/>
<circle cx="520.3" cy="84.8" r="3.0"/>
<circle cx="499.2" cy="29.7" r="3.0"/>
<circle cx="499.2" cy="79.8" r="3.0"/>
<circle cx="511.4" cy="29.7" r="3.0"/>
<circle cx="511.4" cy="79.8" r="3.0"/>
<circle cx="474.5" cy="40.6" r="3.0"/>
<circle cx="474.5" cy="68.9" r="3.0"/>
<circle cx="536.1" cy="40.6" r="3.0"/>
<circle cx="536.1" cy="68.9" r="3.0"/>
<circle cx="479.4" cy="49.5" r="3.0"/>
<circle cx="479.4" cy="60" r="3.0"/>
<circle cx="531.2" cy="49.5" r="3.0"/>
<circle cx="531.2" cy="60" r="3.0"/>
<path d="M490.3 27.6 L490.3 31 L496.2 37.3 L496.2 42.9"/>
<path d="M490.3 81.9 L490.3 78.5 L496.2 72.2 L496.2 66.6"/>
<path d="M520.3 27.6 L520.3 31 L514.4 37.3 L514.4 42.9"/>
<path d="M520.3 81.9 L520.3 78.5 L514.4 72.2 L514.4 66.6"/>
<path d="M499.2 32.6 L499.2 35 L501.7 38 L501.7 42.9"/>
<path d="M499.2 76.9 L499.2 74.5 L501.7 71.5 L501.7 66.6"/>
<path d="M511.4 32.6 L511.4 35 L508.9 38 L508.9 42.9"/>
<path d="M511.4 76.9 L511.4 74.5 L508.9 71.5 L508.9 66.6"/>
<path d="M477.4 40.6 L481 40.6 L486 45.2 L493.5 45.2"/>
<path d="M477.4 68.9 L481 68.9 L486 64.3 L493.5 64.3"/>
<path d="M533.2 40.6 L529.6 40.6 L524.6 45.2 L517.1 45.2"/>
<path d="M533.2 68.9 L529.6 68.9 L524.6 64.3 L517.1 64.3"/>
<path d="M482.3 49.5 L484 49.5 L487 51 L493.5 51"/>
<path d="M482.3 60 L484 60 L487 58.5 L493.5 58.5"/>
<path d="M528.3 49.5 L526.6 49.5 L523.6 51 L517.1 51"/>
<path d="M528.3 60 L526.6 60 L523.6 58.5 L517.1 58.5"/>
</g>
<text x="505.5" y="60.2" text-anchor="middle" style="font-size:16.5px;fill:#1c1c1c;stroke:#1c1c1c;stroke-width:0.45px" textLength="16.5" lengthAdjust="spacingAndGlyphs">AI</text>
<g stroke="#1c1c1c" stroke-width="1.8" fill="none" stroke-linecap="round">
<path d="M493.4 167.5 H524.4 C534 167.5 542 175.5 542 186.3 C542 196.5 534 205.1 524.4 205.1 H483.7 C480 205.1 477.7 210 477.7 215 C477.7 220.5 480 224.9 485.9 224.9 H498"/>
<path d="M510.1 178.9 H524.4 C529 178.9 532.1 182.5 532.1 187.3 C532.1 192 529 195.8 524.4 195.8 H487 C477 195.8 470 204 470 215 C470 225 477 232.6 487 232.6 H498"/>
<rect x="498" y="225" width="5.5" height="7.6" stroke-width="1.4"/>
<path d="M503.5 227.5 C508 226 512 222 516.7 217.2"/>
<path d="M503.5 230.5 C510 230 516 227 522.8 223.3"/>
</g>
<circle cx="516.7" cy="217.2" r="2.3" fill="#1c1c1c"/>
<circle cx="522.8" cy="223.3" r="2.3" fill="#1c1c1c"/>
<g fill="none" stroke="#1c1c1c">
<path d="M476.3 350.8 V327.5 A4.5 4.5 0 0 1 485.3 327.5 V350.8 A8.8 8.8 0 1 1 476.3 350.8Z" stroke-width="2.2"/>
</g>
<circle cx="480.8" cy="357.6" r="5.8" fill="#1c1c1c"/>
<rect x="479.3" y="336" width="3" height="18" fill="#1c1c1c"/>
<line x1="488.5" y1="331" x2="493" y2="331" stroke="#1c1c1c" stroke-width="1.1"/>
<line x1="488.5" y1="334.1" x2="493" y2="334.1" stroke="#1c1c1c" stroke-width="1.1"/>
<line x1="488.5" y1="337.2" x2="493" y2="337.2" stroke="#1c1c1c" stroke-width="1.1"/>
<line x1="488.5" y1="340.3" x2="493" y2="340.3" stroke="#1c1c1c" stroke-width="1.1"/>
<line x1="488.5" y1="343.4" x2="493" y2="343.4" stroke="#1c1c1c" stroke-width="1.1"/>
<line x1="488.5" y1="346.5" x2="493" y2="346.5" stroke="#1c1c1c" stroke-width="1.1"/>
<circle cx="522.3" cy="348.2" r="22.1" fill="none" stroke="#1c1c1c" stroke-width="3.8"/>
<line x1="505.8" y1="351.7" x2="538.6" y2="351.7" stroke="#1c1c1c" stroke-width="1.6"/>
<path d="M522.3 336 L525.6 354 A3.6 3.6 0 1 1 519 354Z" fill="#1c1c1c"/>
<line x1="509" y1="340.6" x2="507.1" y2="339.4" stroke="#1c1c1c" stroke-width="1.5"/>
<line x1="514.6" y1="334.9" x2="513.5" y2="333" stroke="#1c1c1c" stroke-width="1.5"/>
<line x1="522.3" y1="332.9" x2="522.3" y2="330.6" stroke="#1c1c1c" stroke-width="1.5"/>
<line x1="529.9" y1="334.9" x2="531.1" y2="333" stroke="#1c1c1c" stroke-width="1.5"/>
<line x1="535.6" y1="340.6" x2="537.5" y2="339.4" stroke="#1c1c1c" stroke-width="1.5"/>
<path d="M527.8 479.9 L531.8 481.2 L530.7 486.7 L526.5 486.4 L523.4 491 L525.2 494.7 L520.6 497.8 L517.8 494.6 L512.4 495.7 L511.1 499.7 L505.6 498.6 L505.9 494.4 L501.3 491.3 L497.6 493.1 L494.5 488.5 L497.7 485.7 L496.6 480.3 L492.6 479 L493.7 473.5 L497.9 473.8 L501 469.2 L499.2 465.5 L503.8 462.4 L506.6 465.6 L512 464.5 L513.3 460.5 L518.8 461.6 L518.5 465.8 L523.1 468.9 L526.8 467.1 L529.9 471.7 L526.7 474.5Z" fill="#1c1c1c"/>
<circle cx="512.2" cy="480.1" r="9.4" fill="none" stroke="#fff" stroke-width="1.8"/>
<circle cx="512.2" cy="480.1" r="5.9" fill="#fff"/>
<path d="M506.3 511.9 L510.5 512.4 L510.5 518 L506.3 518.5 L504.2 523.6 L506.8 527 L502.9 530.9 L499.5 528.3 L494.4 530.4 L493.9 534.6 L488.3 534.6 L487.8 530.4 L482.7 528.3 L479.3 530.9 L475.4 527 L478 523.6 L475.9 518.5 L471.7 518 L471.7 512.4 L475.9 511.9 L478 506.8 L475.4 503.4 L479.3 499.5 L482.7 502.1 L487.8 500 L488.3 495.8 L493.9 495.8 L494.4 500 L499.5 502.1 L502.9 499.5 L506.8 503.4 L504.2 506.8Z" fill="#1c1c1c"/>
<circle cx="491.1" cy="515.2" r="9.6" fill="none" stroke="#fff" stroke-width="1.8"/>
<circle cx="491.1" cy="515.2" r="5.9" fill="#fff"/>
<path d="M532.7 513.2 L535.4 514.4 L534.3 518.1 L531.3 517.5 L528.9 520.4 L530 523.2 L526.7 525 L524.9 522.5 L521.2 522.9 L520 525.6 L516.3 524.5 L516.9 521.5 L514 519.1 L511.2 520.2 L509.4 516.9 L511.9 515.1 L511.5 511.4 L508.8 510.2 L509.9 506.5 L512.9 507.1 L515.3 504.2 L514.2 501.4 L517.5 499.6 L519.3 502.1 L523 501.7 L524.2 499 L527.9 500.1 L527.3 503.1 L530.2 505.5 L533 504.4 L534.8 507.7 L532.3 509.5Z" fill="#1c1c1c"/>
<circle cx="522.1" cy="512.3" r="6.6" fill="none" stroke="#fff" stroke-width="1.2"/>
<circle cx="522.1" cy="512.3" r="4.0" fill="#fff"/>
<path d="M492.1 486.4 L493.9 486.6 L493.9 488.8 L492.1 489 L491.2 491 L492.4 492.4 L490.8 494 L489.4 492.8 L487.4 493.7 L487.2 495.5 L485 495.5 L484.8 493.7 L482.8 492.8 L481.4 494 L479.8 492.4 L481 491 L480.1 489 L478.3 488.8 L478.3 486.6 L480.1 486.4 L481 484.4 L479.8 483 L481.4 481.4 L482.8 482.6 L484.8 481.7 L485 479.9 L487.2 479.9 L487.4 481.7 L489.4 482.6 L490.8 481.4 L492.4 483 L491.2 484.4Z" fill="#1c1c1c"/>
<circle cx="486.1" cy="487.7" r="3.5" fill="none" stroke="#fff" stroke-width="0.9"/>
<circle cx="486.1" cy="487.7" r="2.3" fill="#fff"/>
<g fill="none" stroke="#1c1c1c">
<path d="M494.8 630.7 V619.9 A12.4 12.4 0 0 1 519.6 619.9 V630.7" stroke-width="1.3"/>
<path d="M498.5 630.7 V620.5 A8.7 8.7 0 0 1 515.9 620.5 V630.7" stroke-width="1.3"/>
<rect x="489" y="631.6" width="35.2" height="29.4" rx="5" stroke-width="2.1"/>
<path d="M496 664.4 V670 H480.5 M501.6 664.4 V676.8 H492.9 M509 664.4 V679.3 H519.6 M515.8 664.4 V672.5 H530.7" stroke-width="1.3"/>
<circle cx="477.4" cy="670" r="2.9" stroke-width="1.3"/>
<circle cx="489.8" cy="676.8" r="2.9" stroke-width="1.3"/>
<circle cx="522.7" cy="679.6" r="2.9" stroke-width="1.3"/>
<circle cx="533.8" cy="672.5" r="2.9" stroke-width="1.3"/>
</g>
<circle cx="507.2" cy="641.2" r="4.6" fill="#1c1c1c"/>
<path d="M504.8 644 L503.5 653.3 H510.3 L509 644Z" fill="#1c1c1c"/>

<!-- labels -->
<g class="lbl">
<text x="433.3" y="43.8" text-anchor="end">Brain</text>
<text x="573" y="43.6" textLength="190.8" lengthAdjust="spacingAndGlyphs">Edge/Cloud Processing</text>
<text x="433.3" y="190" text-anchor="end">Nervous System</text>
<text x="573.3" y="190" textLength="128.2" lengthAdjust="spacingAndGlyphs">Network Cables</text>
<text x="350.2" y="346.5" textLength="83.5" lengthAdjust="spacingAndGlyphs">Eyes/Ears</text>
<text x="573.7" y="346.3">Sensors</text>
<text x="433.3" y="485.1" text-anchor="end">Muscles</text>
<text x="573.3" y="485.1" textLength="81.2" lengthAdjust="spacingAndGlyphs">Actuators</text>
<text x="433.3" y="637.6" text-anchor="end">Skin</text>
<text x="573.3" y="637" textLength="114" lengthAdjust="spacingAndGlyphs">Cybersecurity</text>
</g>
<g class="cap" text-anchor="middle">
<text x="504.4" y="113.6" textLength="94.2" lengthAdjust="spacingAndGlyphs">Intelligence</text>
<text x="504.8" y="261.5" textLength="102.2" lengthAdjust="spacingAndGlyphs">Connectivity</text>
<text x="504.6" y="406.2">Sensing</text>
<text x="505" y="560.6" textLength="117.8" lengthAdjust="spacingAndGlyphs">Motion Control</text>
<text x="504.5" y="710" textLength="68.6" lengthAdjust="spacingAndGlyphs">Security</text>
</g>
</svg>
</body></html>
